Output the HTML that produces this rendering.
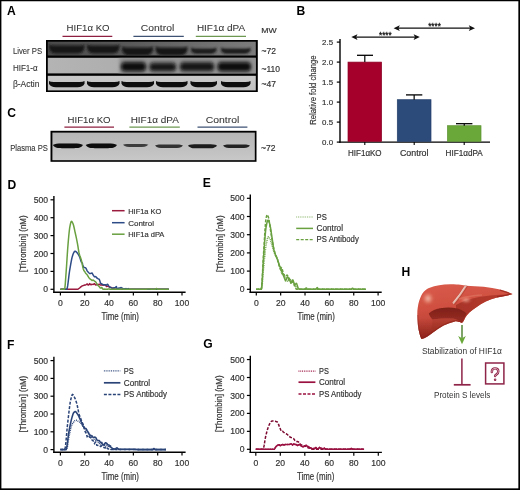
<!DOCTYPE html>
<html><head><meta charset="utf-8"><style>
html,body{margin:0;padding:0;background:#fff;}
body{width:520px;height:490px;overflow:hidden;}
svg{display:block;font-family:"Liberation Sans", sans-serif;will-change:transform;}
</style></head><body>
<svg width="520" height="490" viewBox="0 0 520 490" font-family='"Liberation Sans", sans-serif'>
<text x="7.1" y="15.2" font-size="12.1" font-weight="bold" fill="#000">A</text>
<text x="88.1" y="31.3" font-size="9.7" text-anchor="middle" fill="#333" font-weight="normal" textLength="43.0" lengthAdjust="spacingAndGlyphs" stroke="#333" stroke-width="0.06" >HIF1α KO</text>
<text x="157.5" y="31.3" font-size="9.7" text-anchor="middle" fill="#333" font-weight="normal" textLength="33.4" lengthAdjust="spacingAndGlyphs" stroke="#333" stroke-width="0.06" >Control</text>
<text x="221" y="31.3" font-size="9.7" text-anchor="middle" fill="#333" font-weight="normal" textLength="48.2" lengthAdjust="spacingAndGlyphs" stroke="#333" stroke-width="0.06" >HIF1α dPA</text>
<line x1="62.5" y1="36.3" x2="112.3" y2="36.3" stroke="#8e1f40" stroke-width="1.25" />
<line x1="133.4" y1="36.3" x2="183.8" y2="36.3" stroke="#3e5274" stroke-width="1.25" />
<line x1="195.8" y1="36.3" x2="246" y2="36.3" stroke="#6c9850" stroke-width="1.25" />
<text x="261.2" y="32.5" font-size="7.8" text-anchor="start" fill="#333" font-weight="normal" textLength="15.4" lengthAdjust="spacingAndGlyphs" stroke="#333" stroke-width="0.18" >MW</text>
<text x="261.5" y="54" font-size="8.5" text-anchor="start" fill="#333" font-weight="normal" stroke="#333" stroke-width="0.18" >~72</text>
<text x="261.5" y="72" font-size="8.5" text-anchor="start" fill="#333" font-weight="normal" stroke="#333" stroke-width="0.18" >~110</text>
<text x="261.5" y="87" font-size="8.5" text-anchor="start" fill="#333" font-weight="normal" stroke="#333" stroke-width="0.18" >~47</text>
<text x="12.9" y="53.7" font-size="8.6" text-anchor="start" fill="#333" font-weight="normal" textLength="29.2" lengthAdjust="spacingAndGlyphs" stroke="#333" stroke-width="0.1" >Liver PS</text>
<text x="12.9" y="71.4" font-size="8.6" text-anchor="start" fill="#333" font-weight="normal" textLength="24.8" lengthAdjust="spacingAndGlyphs" stroke="#333" stroke-width="0.1" >HIF1-α</text>
<text x="12.9" y="86.9" font-size="8.6" text-anchor="start" fill="#333" font-weight="normal" textLength="26.6" lengthAdjust="spacingAndGlyphs" stroke="#333" stroke-width="0.1" >β-Actin</text>
<defs>
<filter id="b1" x="-20%" y="-60%" width="140%" height="220%"><feGaussianBlur stdDeviation="1.1"/></filter>
<filter id="b2" x="-20%" y="-60%" width="140%" height="220%"><feGaussianBlur stdDeviation="0.7"/></filter>
<filter id="b3" x="-20%" y="-60%" width="140%" height="220%"><feGaussianBlur stdDeviation="1.8"/></filter>
<filter id="b4" x="-20%" y="-60%" width="140%" height="220%"><feGaussianBlur stdDeviation="1.45"/></filter>
<linearGradient id="g1" x1="0" y1="0" x2="1" y2="0"><stop offset="0" stop-color="#4a4a4a"/><stop offset="0.4" stop-color="#5a5a5a"/><stop offset="0.7" stop-color="#6c6c6c"/><stop offset="1" stop-color="#7c7c7c"/></linearGradient>
<linearGradient id="g2" x1="0" y1="0" x2="1" y2="0"><stop offset="0" stop-color="#b4b4b4"/><stop offset="0.35" stop-color="#aeaeae"/><stop offset="1" stop-color="#a2a2a2"/></linearGradient>
<linearGradient id="g3" x1="0" y1="0" x2="0" y2="1"><stop offset="0" stop-color="#c9c9c9"/><stop offset="1" stop-color="#c2c2c2"/></linearGradient>
<linearGradient id="gc" x1="0" y1="0" x2="0" y2="1"><stop offset="0" stop-color="#b6b6b6"/><stop offset="0.5" stop-color="#bebebe"/><stop offset="1" stop-color="#c8c8c8"/></linearGradient>
<clipPath id="cr1"><rect x="47.8" y="41.7" width="208" height="13.8"/></clipPath>
<clipPath id="cr2"><rect x="47.8" y="57.8" width="208" height="15.6"/></clipPath>
<clipPath id="cr3"><rect x="47.8" y="75.8" width="208" height="14.6"/></clipPath>
<clipPath id="crc"><rect x="52.4" y="132.6" width="202.4" height="27.6"/></clipPath>
</defs>
<rect x="46" y="40" width="211.8" height="52" fill="#000" />
<rect x="47.8" y="41.7" width="208" height="13.8" fill="url(#g1)" />
<rect x="47.8" y="57.8" width="208" height="15.6" fill="url(#g2)" />
<rect x="47.8" y="75.8" width="208" height="14.6" fill="url(#g3)" />
<g clip-path="url(#cr1)"><g filter="url(#b1)">
<path d="M49,44.4 Q50,45.4 54,45.4 L79.5,45.4 Q83.5,45.4 84.5,44.4 L84.5,48.269999999999996 Q83.0,53.6 77.5,53.6 L56,53.6 Q50.5,53.6 49,48.269999999999996 Z" fill="#171717"/>
<path d="M87,44.4 Q88,45.4 92,45.4 L114.5,45.4 Q118.5,45.4 119.5,44.4 L119.5,48.269999999999996 Q118.0,53.6 112.5,53.6 L94,53.6 Q88.5,53.6 87,48.269999999999996 Z" fill="#171717"/>
<path d="M122,46.6 Q123,47.6 127,47.6 L148,47.6 Q152,47.6 153,46.6 L153,50.33 Q151.5,55.4 146,55.4 L129,55.4 Q123.5,55.4 122,50.33 Z" fill="#131313"/>
<path d="M155.5,46.6 Q156.5,47.6 160.5,47.6 L182.5,47.6 Q186.5,47.6 187.5,46.6 L187.5,50.33 Q186.0,55.4 180.5,55.4 L162.5,55.4 Q157.0,55.4 155.5,50.33 Z" fill="#141414"/>
<path d="M191,47.6 Q192,48.6 196,48.6 L211.5,48.6 Q215.5,48.6 216.5,47.6 L216.5,50.42 Q215.0,53.8 209.5,53.8 L198,53.8 Q192.5,53.8 191,50.42 Z" fill="#1e1e1e"/>
<path d="M221,47.6 Q222,48.6 226,48.6 L245.5,48.6 Q249.5,48.6 250.5,47.6 L250.5,50.42 Q249.0,53.8 243.5,53.8 L228,53.8 Q222.5,53.8 221,50.42 Z" fill="#1e1e1e"/>
</g></g>
<g clip-path="url(#cr2)">
<g filter="url(#b3)">
<rect x="119" y="56" width="140" height="20" fill="#8c8c8c" opacity="0.75"/>
<rect x="120.0" y="60.3" width="27.0" height="13.0" rx="5" fill="#555" opacity="0.7"/>
<rect x="148.5" y="60.9" width="28.5" height="12.000000000000007" rx="5" fill="#555" opacity="0.7"/>
<rect x="179.0" y="60.5" width="36.0" height="12.599999999999994" rx="5" fill="#555" opacity="0.7"/>
<rect x="216.5" y="60.3" width="35.5" height="13.0" rx="5" fill="#555" opacity="0.7"/>
</g><g filter="url(#b4)">
<rect x="121.5" y="62.8" width="24.0" height="8.0" rx="4" fill="#0c0c0c"/>
<rect x="150" y="63.4" width="25.5" height="7.000000000000007" rx="4" fill="#141414"/>
<rect x="180.5" y="63.0" width="33.0" height="7.599999999999994" rx="4" fill="#121212"/>
<rect x="218" y="62.8" width="32.5" height="8.0" rx="4" fill="#0e0e0e"/>
</g></g>
<g clip-path="url(#cr3)"><g filter="url(#b2)">
<path d="M49,81.1 Q50,82.0 54,82.0 L79.5,82.0 Q83.5,82.0 84.5,81.1 L84.5,83.82000000000001 Q83.0,87.2 77.5,87.2 L56,87.2 Q50.5,87.2 49,83.82000000000001 Z" fill="#0a0a0a"/>
<path d="M87,81.1 Q88,82.0 92,82.0 L114.5,82.0 Q118.5,82.0 119.5,81.1 L119.5,83.82000000000001 Q118.0,87.2 112.5,87.2 L94,87.2 Q88.5,87.2 87,83.82000000000001 Z" fill="#0a0a0a"/>
<path d="M121.5,81.1 Q122.5,82.0 126.5,82.0 L149,82.0 Q153,82.0 154,81.1 L154,83.82000000000001 Q152.5,87.2 147,87.2 L128.5,87.2 Q123.0,87.2 121.5,83.82000000000001 Z" fill="#0a0a0a"/>
<path d="M156,81.1 Q157,82.0 161,82.0 L182.5,82.0 Q186.5,82.0 187.5,81.1 L187.5,83.82000000000001 Q186.0,87.2 180.5,87.2 L163,87.2 Q157.5,87.2 156,83.82000000000001 Z" fill="#0a0a0a"/>
<path d="M190.5,81.1 Q191.5,82.0 195.5,82.0 L212,82.0 Q216,82.0 217,81.1 L217,83.82000000000001 Q215.5,87.2 210,87.2 L197.5,87.2 Q192.0,87.2 190.5,83.82000000000001 Z" fill="#0a0a0a"/>
<path d="M221,81.1 Q222,82.0 226,82.0 L245.5,82.0 Q249.5,82.0 250.5,81.1 L250.5,83.82000000000001 Q249.0,87.2 243.5,87.2 L228,87.2 Q222.5,87.2 221,83.82000000000001 Z" fill="#0a0a0a"/>
</g></g>
<text x="7.3" y="117.2" font-size="12.1" font-weight="bold" fill="#000">C</text>
<text x="89.1" y="122.6" font-size="9.7" text-anchor="middle" fill="#333" font-weight="normal" textLength="43.0" lengthAdjust="spacingAndGlyphs" stroke="#333" stroke-width="0.06" >HIF1α KO</text>
<text x="154.75" y="122.6" font-size="9.7" text-anchor="middle" fill="#333" font-weight="normal" textLength="48.2" lengthAdjust="spacingAndGlyphs" stroke="#333" stroke-width="0.06" >HIF1α dPA</text>
<text x="222.5" y="122.6" font-size="9.7" text-anchor="middle" fill="#333" font-weight="normal" textLength="33.6" lengthAdjust="spacingAndGlyphs" stroke="#333" stroke-width="0.06" >Control</text>
<line x1="64.4" y1="127.1" x2="114" y2="127.1" stroke="#8e1f40" stroke-width="1.25" />
<line x1="129.4" y1="127.1" x2="179.8" y2="127.1" stroke="#6c9850" stroke-width="1.25" />
<line x1="197.5" y1="127.1" x2="247.4" y2="127.1" stroke="#3e5274" stroke-width="1.25" />
<rect x="50.5" y="130.8" width="206" height="31" fill="#000" />
<rect x="52.4" y="132.6" width="202.4" height="27.6" fill="url(#gc)" />
<g clip-path="url(#crc)"><g filter="url(#b2)">
<path d="M52.8,145.09999999999997 C54.8,143.6 57.8,143.6 61.8,143.6 L74,143.6 C78,143.6 81,143.6 83,145.09999999999997 C81,148.2 78,148.2 74,148.2 L61.8,148.2 C57.8,148.2 54.8,148.2 52.8,145.09999999999997 Z" fill="#0c0c0c"/>
<path d="M85.7,145.09999999999997 C87.7,143.6 90.7,143.6 94.7,143.6 L108,143.6 C112,143.6 115,143.6 117,145.09999999999997 C115,148.2 112,148.2 108,148.2 L94.7,148.2 C90.7,148.2 87.7,148.2 85.7,145.09999999999997 Z" fill="#0c0c0c"/>
<path d="M123,144.7 C125,144.0 128,144.0 132,144.0 L139.3,144.0 C143.3,144.0 146.3,144.0 148.3,144.7 C146.3,147.0 143.3,147.0 139.3,147.0 L132,147.0 C128,147.0 125,147.0 123,144.7 Z" fill="#3e3e3e"/>
<path d="M155,145.45 C157,144.5 160,144.5 164,144.5 L174,144.5 C178,144.5 181,144.5 183,145.45 C181,148.0 178,148.0 174,148.0 L164,148.0 C160,148.0 157,148.0 155,145.45 Z" fill="#303030"/>
<path d="M188,145.39999999999998 C190,144.2 193,144.2 197,144.2 L208,144.2 C212,144.2 215,144.2 217,145.39999999999998 C215,148.2 212,148.2 208,148.2 L197,148.2 C193,148.2 190,148.2 188,145.39999999999998 Z" fill="#1a1a1a"/>
<path d="M223,145.45 C225,144.5 228,144.5 232,144.5 L241,144.5 C245,144.5 248,144.5 250,145.45 C248,148.0 245,148.0 241,148.0 L232,148.0 C228,148.0 225,148.0 223,145.45 Z" fill="#202020"/>
</g></g>
<text x="10.2" y="150.7" font-size="8.7" text-anchor="start" fill="#333" font-weight="normal" textLength="37.6" lengthAdjust="spacingAndGlyphs" stroke="#333" stroke-width="0.1" >Plasma PS</text>
<text x="261" y="151.3" font-size="8.5" text-anchor="start" fill="#333" font-weight="normal" stroke="#333" stroke-width="0.18" >~72</text>
<text x="296.6" y="15.3" font-size="12.1" font-weight="bold" fill="#000">B</text>
<line x1="340" y1="38.9" x2="340" y2="142.8" stroke="#000" stroke-width="1.4" />
<line x1="339.3" y1="142.1" x2="490" y2="142.1" stroke="#000" stroke-width="1.4" />
<line x1="336.8" y1="142.1" x2="340" y2="142.1" stroke="#000" stroke-width="1.2" />
<text x="333.1" y="144.9" font-size="7.9" text-anchor="end" fill="#333" font-weight="normal" stroke="#333" stroke-width="0.18" >0.0</text>
<line x1="336.8" y1="122.1" x2="340" y2="122.1" stroke="#000" stroke-width="1.2" />
<text x="333.1" y="124.89999999999999" font-size="7.9" text-anchor="end" fill="#333" font-weight="normal" stroke="#333" stroke-width="0.18" >0.5</text>
<line x1="336.8" y1="102.1" x2="340" y2="102.1" stroke="#000" stroke-width="1.2" />
<text x="333.1" y="104.89999999999999" font-size="7.9" text-anchor="end" fill="#333" font-weight="normal" stroke="#333" stroke-width="0.18" >1.0</text>
<line x1="336.8" y1="82.1" x2="340" y2="82.1" stroke="#000" stroke-width="1.2" />
<text x="333.1" y="84.89999999999999" font-size="7.9" text-anchor="end" fill="#333" font-weight="normal" stroke="#333" stroke-width="0.18" >1.5</text>
<line x1="336.8" y1="62.099999999999994" x2="340" y2="62.099999999999994" stroke="#000" stroke-width="1.2" />
<text x="333.1" y="64.89999999999999" font-size="7.9" text-anchor="end" fill="#333" font-weight="normal" stroke="#333" stroke-width="0.18" >2.0</text>
<line x1="336.8" y1="42.099999999999994" x2="340" y2="42.099999999999994" stroke="#000" stroke-width="1.2" />
<text x="333.1" y="44.89999999999999" font-size="7.9" text-anchor="end" fill="#333" font-weight="normal" stroke="#333" stroke-width="0.18" >2.5</text>
<line x1="364.8" y1="142.1" x2="364.8" y2="144.9" stroke="#000" stroke-width="1.1" />
<line x1="414.2" y1="142.1" x2="414.2" y2="144.9" stroke="#000" stroke-width="1.1" />
<line x1="464.2" y1="142.1" x2="464.2" y2="144.9" stroke="#000" stroke-width="1.1" />
<rect x="348" y="62.099999999999994" width="33.60000000000002" height="79.3" fill="#a5002c" stroke="#8a0024" stroke-width="0.7"/>
<line x1="364.8" y1="62.099999999999994" x2="364.8" y2="55.3" stroke="#000" stroke-width="1.2" />
<line x1="357" y1="55.3" x2="373" y2="55.3" stroke="#000" stroke-width="1.3" />
<rect x="397.3" y="99.69999999999999" width="33.69999999999999" height="41.7" fill="#2d4b7a" stroke="#223e6a" stroke-width="0.7"/>
<line x1="414.15" y1="99.69999999999999" x2="414.15" y2="94.9" stroke="#000" stroke-width="1.2" />
<line x1="406" y1="94.9" x2="422.3" y2="94.9" stroke="#000" stroke-width="1.3" />
<rect x="447.5" y="125.69999999999999" width="33.5" height="15.700000000000006" fill="#6aa83a" stroke="#5a9030" stroke-width="0.7"/>
<line x1="464.25" y1="125.69999999999999" x2="464.25" y2="123.69999999999999" stroke="#000" stroke-width="1.2" />
<line x1="456" y1="123.69999999999999" x2="472.4" y2="123.69999999999999" stroke="#000" stroke-width="1.3" />
<text x="364.8" y="155.8" font-size="8.4" text-anchor="middle" fill="#333" font-weight="normal" textLength="33.6" lengthAdjust="spacingAndGlyphs" stroke="#333" stroke-width="0.18" >HIF1αKO</text>
<text x="414.2" y="155.8" font-size="8.4" text-anchor="middle" fill="#333" font-weight="normal" textLength="28.6" lengthAdjust="spacingAndGlyphs" stroke="#333" stroke-width="0.18" >Control</text>
<text x="464.2" y="155.8" font-size="8.4" text-anchor="middle" fill="#333" font-weight="normal" textLength="37.2" lengthAdjust="spacingAndGlyphs" stroke="#333" stroke-width="0.18" >HIF1αdPA</text>
<text transform="translate(316.1,90.1) rotate(-90)" font-size="9.2" text-anchor="middle" fill="#333" stroke="#333" stroke-width="0.18" textLength="69.2" lengthAdjust="spacingAndGlyphs">Relative fold change</text>
<line x1="355.3" y1="37.1" x2="415.8" y2="37.1" stroke="#111" stroke-width="1.3" />
<path d="M351.3,37.1 L357.5,34.2 L356.1,37.1 L357.5,40.0 Z" fill="#111"/>
<path d="M419.8,37.1 L413.6,34.2 L415.0,37.1 L413.6,40.0 Z" fill="#111"/>
<line x1="397.6" y1="28.2" x2="471.0" y2="28.2" stroke="#111" stroke-width="1.3" />
<path d="M393.6,28.2 L399.8,25.3 L398.40000000000003,28.2 L399.8,31.099999999999998 Z" fill="#111"/>
<path d="M475.0,28.2 L468.8,25.3 L470.2,28.2 L468.8,31.099999999999998 Z" fill="#111"/>
<text x="385.3" y="38.0" font-size="9" text-anchor="middle" fill="#111" font-weight="normal" textLength="12.6" lengthAdjust="spacingAndGlyphs" stroke="#111" stroke-width="0.3" >****</text>
<text x="434.5" y="29.0" font-size="9" text-anchor="middle" fill="#111" font-weight="normal" textLength="12.6" lengthAdjust="spacingAndGlyphs" stroke="#111" stroke-width="0.3" >****</text>
<text x="7.4" y="189.3" font-size="12.1" font-weight="bold" fill="#000">D</text>
<line x1="53.9" y1="196.0" x2="53.9" y2="292.9" stroke="#000" stroke-width="1.4" />
<line x1="53.199999999999996" y1="292.2" x2="185.6" y2="292.2" stroke="#000" stroke-width="1.4" />
<line x1="50.5" y1="289.3" x2="53.9" y2="289.3" stroke="#000" stroke-width="1.2" />
<text x="48.1" y="292.35" font-size="8.6" text-anchor="end" fill="#333" font-weight="normal" stroke="#333" stroke-width="0.18" >0</text>
<line x1="50.5" y1="271.40000000000003" x2="53.9" y2="271.40000000000003" stroke="#000" stroke-width="1.2" />
<text x="48.1" y="274.45000000000005" font-size="8.6" text-anchor="end" fill="#333" font-weight="normal" stroke="#333" stroke-width="0.18" >100</text>
<line x1="50.5" y1="253.5" x2="53.9" y2="253.5" stroke="#000" stroke-width="1.2" />
<text x="48.1" y="256.55" font-size="8.6" text-anchor="end" fill="#333" font-weight="normal" stroke="#333" stroke-width="0.18" >200</text>
<line x1="50.5" y1="235.60000000000002" x2="53.9" y2="235.60000000000002" stroke="#000" stroke-width="1.2" />
<text x="48.1" y="238.65000000000003" font-size="8.6" text-anchor="end" fill="#333" font-weight="normal" stroke="#333" stroke-width="0.18" >300</text>
<line x1="50.5" y1="217.70000000000002" x2="53.9" y2="217.70000000000002" stroke="#000" stroke-width="1.2" />
<text x="48.1" y="220.75000000000003" font-size="8.6" text-anchor="end" fill="#333" font-weight="normal" stroke="#333" stroke-width="0.18" >400</text>
<line x1="50.5" y1="199.8" x2="53.9" y2="199.8" stroke="#000" stroke-width="1.2" />
<text x="48.1" y="202.85000000000002" font-size="8.6" text-anchor="end" fill="#333" font-weight="normal" stroke="#333" stroke-width="0.18" >500</text>
<line x1="60.4" y1="292.2" x2="60.4" y2="295.5" stroke="#000" stroke-width="1.2" />
<text x="60.4" y="305.8" font-size="8.6" text-anchor="middle" fill="#333" font-weight="normal" stroke="#333" stroke-width="0.18" >0</text>
<line x1="84.72" y1="292.2" x2="84.72" y2="295.5" stroke="#000" stroke-width="1.2" />
<text x="84.72" y="305.8" font-size="8.6" text-anchor="middle" fill="#333" font-weight="normal" stroke="#333" stroke-width="0.18" >20</text>
<line x1="109.03999999999999" y1="292.2" x2="109.03999999999999" y2="295.5" stroke="#000" stroke-width="1.2" />
<text x="109.03999999999999" y="305.8" font-size="8.6" text-anchor="middle" fill="#333" font-weight="normal" stroke="#333" stroke-width="0.18" >40</text>
<line x1="133.35999999999999" y1="292.2" x2="133.35999999999999" y2="295.5" stroke="#000" stroke-width="1.2" />
<text x="133.35999999999999" y="305.8" font-size="8.6" text-anchor="middle" fill="#333" font-weight="normal" stroke="#333" stroke-width="0.18" >60</text>
<line x1="157.68" y1="292.2" x2="157.68" y2="295.5" stroke="#000" stroke-width="1.2" />
<text x="157.68" y="305.8" font-size="8.6" text-anchor="middle" fill="#333" font-weight="normal" stroke="#333" stroke-width="0.18" >80</text>
<line x1="182.0" y1="292.2" x2="182.0" y2="295.5" stroke="#000" stroke-width="1.2" />
<text x="182.0" y="305.8" font-size="8.6" text-anchor="middle" fill="#333" font-weight="normal" stroke="#333" stroke-width="0.18" >100</text>
<text transform="translate(26.4,243.7) rotate(-90)" font-size="8.2" text-anchor="middle" fill="#333" stroke="#333" stroke-width="0.18" textLength="56.6" lengthAdjust="spacingAndGlyphs">[Thrombin] (nM)</text>
<text x="120.19999999999999" y="319.59999999999997" font-size="10" text-anchor="middle" fill="#333" stroke="#333" stroke-width="0.18" textLength="37.4" lengthAdjust="spacingAndGlyphs">Time (min)</text>
<path d="M60.40,289.30L60.89,289.30L61.37,289.30L61.86,289.30L62.35,289.30L62.83,289.30L63.32,289.30L63.80,289.30L64.29,289.30L64.78,289.30L65.26,289.30L65.75,289.30L66.24,289.30L66.72,289.30L67.21,289.30L67.70,289.30L68.18,289.30L68.67,289.30L69.16,289.30L69.64,289.30L70.13,289.30L70.61,289.30L71.10,289.30L71.59,289.30L72.07,289.30L72.56,289.30L73.05,289.30L73.53,289.30L74.02,289.30L74.51,289.30L74.99,289.30L75.48,289.30L75.96,289.30L76.45,289.30L76.94,289.30L77.42,289.30L77.91,289.18L78.40,288.87L78.88,288.50L79.37,288.14L79.86,287.75L80.34,287.32L80.83,286.90L81.32,286.52L81.80,286.20L82.29,285.90L82.77,285.73L83.26,285.58L83.75,285.41L84.23,285.21L84.72,285.02L85.21,284.95L85.69,284.90L86.18,284.67L86.67,284.26L87.15,283.90L87.64,284.48L88.12,285.08L88.61,285.03L89.10,284.34L89.58,283.64L90.07,284.12L90.56,284.58L91.04,284.71L91.53,284.50L92.02,284.29L92.50,284.37L92.99,284.44L93.48,284.31L93.96,283.97L94.45,283.65L94.93,284.27L95.42,284.90L95.91,285.08L96.39,284.80L96.88,284.54L97.37,284.60L97.85,284.67L98.34,284.60L98.83,284.37L99.31,284.14L99.80,284.57L100.28,284.99L100.77,285.12L101.26,284.97L101.74,284.83L102.23,284.98L102.72,285.14L103.20,285.16L103.69,285.09L104.18,285.05L104.66,285.11L105.15,285.19L105.64,285.48L106.12,285.96L106.61,286.47L107.09,286.30L107.58,286.16L108.07,286.23L108.55,286.51L109.04,286.75L109.53,286.99L110.01,287.23L110.50,287.38L110.99,287.45L111.47,287.52L111.96,287.93L112.44,288.33L112.93,288.54L113.42,288.55L113.90,288.56L114.39,288.82L114.88,289.06L115.36,289.16L115.85,289.12L116.34,289.06L116.82,289.00L117.31,289.05L117.80,289.10L118.28,289.14L118.77,289.19L119.25,289.23L119.74,289.26L120.23,289.28L120.71,289.29L121.20,289.30L121.69,289.30L122.17,289.30L122.66,289.30L123.15,289.30L123.63,289.30L124.12,289.30L124.60,289.30L125.09,289.30L125.58,289.30L126.06,289.30L126.55,289.30L127.04,289.30L127.52,289.30L128.01,289.30L128.50,289.30L128.98,289.30L129.47,289.30L129.96,289.30L130.44,289.30L130.93,289.30L131.41,289.30L131.90,289.30L132.39,289.30L132.87,289.30L133.36,289.30L133.85,289.30L134.33,289.30L134.82,289.30L135.31,289.30L135.79,289.30L136.28,289.30L136.76,289.30L137.25,289.30L137.74,289.30L138.22,289.30L138.71,289.30L139.20,289.30L139.68,289.30L140.17,289.30L140.66,289.30L141.14,289.30L141.63,289.30L142.12,289.30L142.60,289.30L143.09,289.30L143.57,289.30L144.06,289.30L144.55,289.30L145.03,289.30L145.52,289.30L146.01,289.30L146.49,289.30L146.98,289.30L147.47,289.30L147.95,289.30L148.44,289.30L148.92,289.30L149.41,289.30L149.90,289.30L150.38,289.30L150.87,289.30L151.36,289.30L151.84,289.30L152.33,289.30L152.82,289.30L153.30,289.30L153.79,289.30L154.28,289.30L154.76,289.30L155.25,289.30L155.73,289.30L156.22,289.30L156.71,289.30L157.19,289.30L157.68,289.30L158.17,289.30L158.65,289.30L159.14,289.30L159.63,289.30L160.11,289.30L160.60,289.30L161.08,289.30L161.57,289.30L162.06,289.30L162.54,289.30L163.03,289.30L163.52,289.30L164.00,289.30L164.49,289.30L164.98,289.30L165.46,289.30L165.95,289.30L166.44,289.30L166.92,289.30L167.41,289.30L167.89,289.30L168.38,289.30L168.87,289.30" fill="none" stroke="#9b1b3e" stroke-width="1.5" stroke-linejoin="round"/>
<path d="M60.40,289.30L60.89,289.30L61.37,289.30L61.86,289.30L62.35,289.30L62.83,289.30L63.32,289.30L63.80,289.30L64.29,289.30L64.78,289.30L65.26,289.30L65.75,289.30L66.24,289.30L66.72,289.30L67.21,288.30L67.70,285.68L68.18,282.01L68.67,277.88L69.16,273.85L69.64,270.50L70.13,267.64L70.61,264.77L71.10,262.02L71.59,259.52L72.07,257.39L72.56,255.69L73.05,254.21L73.53,253.03L74.02,252.23L74.51,251.56L74.99,251.19L75.48,251.27L75.96,251.63L76.45,252.07L76.94,252.56L77.42,253.16L77.91,253.85L78.40,254.60L78.88,255.46L79.37,256.42L79.86,257.45L80.34,259.05L80.83,260.73L81.32,261.95L81.80,262.54L82.29,263.02L82.77,264.96L83.26,266.47L83.75,267.27L84.23,267.43L84.72,267.59L85.21,267.70L85.69,267.93L86.18,268.62L86.67,269.75L87.15,270.86L87.64,271.45L88.12,271.98L88.61,272.51L89.10,273.01L89.58,273.45L90.07,273.48L90.56,273.44L91.04,273.31L91.53,273.14L92.02,272.97L92.50,273.83L92.99,274.72L93.48,275.49L93.96,276.13L94.45,276.77L94.93,276.68L95.42,276.57L95.91,276.80L96.39,277.39L96.88,278.02L97.37,278.28L97.85,278.58L98.34,278.85L98.83,279.11L99.31,279.44L99.80,280.77L100.28,282.39L100.77,283.50L101.26,283.72L101.74,283.76L102.23,284.15L102.72,284.51L103.20,284.67L103.69,284.65L104.18,284.67L104.66,284.76L105.15,284.81L105.64,285.00L106.12,285.18L106.61,285.09L107.09,284.51L107.58,284.25L108.07,284.74L108.55,285.61L109.04,286.23L109.53,286.64L110.01,286.99L110.50,287.32L110.99,287.63L111.47,287.90L111.96,288.06L112.44,288.22L112.93,288.17L113.42,287.93L113.90,287.68L114.39,287.77L114.88,287.86L115.36,287.62L115.85,287.05L116.34,286.49L116.82,287.71L117.31,288.94L117.80,289.26L118.28,288.67L118.77,288.09L119.25,288.07L119.74,288.06L120.23,287.95L120.71,287.75L121.20,287.55L121.69,287.82L122.17,288.08L122.66,288.40L123.15,288.79L123.63,289.17L124.12,289.01L124.60,288.84L125.09,288.72L125.58,288.64L126.06,288.55L126.55,288.82L127.04,289.09L127.52,289.11L128.01,288.88L128.50,288.64L128.98,289.15L129.47,289.17L129.96,289.20L130.44,289.22L130.93,289.24L131.41,289.26L131.90,289.28L132.39,289.29L132.87,289.30L133.36,289.30L133.85,289.30L134.33,289.30L134.82,289.30L135.31,289.30L135.79,289.30L136.28,289.30L136.76,289.30L137.25,289.30L137.74,289.30L138.22,289.30L138.71,289.30L139.20,289.30L139.68,289.30L140.17,289.30L140.66,289.30L141.14,289.30L141.63,289.30L142.12,289.30L142.60,289.30L143.09,289.30L143.57,289.30L144.06,289.30L144.55,289.30L145.03,289.30L145.52,289.30L146.01,289.30L146.49,289.30L146.98,289.30L147.47,289.30L147.95,289.30L148.44,289.30L148.92,289.30L149.41,289.30L149.90,289.30L150.38,289.30L150.87,289.30L151.36,289.30L151.84,289.30L152.33,289.30L152.82,289.30L153.30,289.30L153.79,289.30L154.28,289.30L154.76,289.30L155.25,289.30L155.73,289.30L156.22,289.30L156.71,289.30L157.19,289.30L157.68,289.30L158.17,289.30L158.65,289.30L159.14,289.30L159.63,289.30L160.11,289.30L160.60,289.30L161.08,289.30L161.57,289.30L162.06,289.30L162.54,289.30L163.03,289.30L163.52,289.30L164.00,289.30L164.49,289.30L164.98,289.30L165.46,289.30L165.95,289.30L166.44,289.30L166.92,289.30L167.41,289.30L167.89,289.30L168.38,289.30L168.87,289.30" fill="none" stroke="#2d4b86" stroke-width="1.5" stroke-linejoin="round"/>
<path d="M60.40,289.30L60.89,289.30L61.37,289.30L61.86,289.30L62.35,289.30L62.83,289.30L63.32,289.30L63.80,289.30L64.29,289.30L64.78,288.62L65.26,284.09L65.75,277.31L66.24,270.62L66.72,263.57L67.21,255.82L67.70,248.54L68.18,242.59L68.67,237.01L69.16,232.00L69.64,228.07L70.13,225.45L70.61,223.23L71.10,221.69L71.59,221.30L72.07,221.78L72.56,222.70L73.05,223.79L73.53,225.24L74.02,227.25L74.51,229.53L74.99,231.83L75.48,233.99L75.96,236.18L76.45,238.43L76.94,240.79L77.42,243.30L77.91,246.24L78.40,249.43L78.88,252.22L79.37,254.22L79.86,255.83L80.34,257.13L80.83,258.42L81.32,259.99L81.80,262.05L82.29,264.43L82.77,266.95L83.26,268.91L83.75,270.24L84.23,270.98L84.72,271.58L85.21,272.47L85.69,273.23L86.18,273.84L86.67,274.33L87.15,274.81L87.64,275.54L88.12,276.39L88.61,277.22L89.10,277.90L89.58,278.43L90.07,278.95L90.56,279.28L91.04,279.61L91.53,280.01L92.02,280.49L92.50,280.27L92.99,280.09L93.48,280.21L93.96,280.62L94.45,281.05L94.93,281.32L95.42,281.60L95.91,282.20L96.39,283.12L96.88,284.02L97.37,284.60L97.85,285.19L98.34,285.74L98.83,286.22L99.31,286.68L99.80,287.32L100.28,287.95L100.77,288.11L101.26,287.80L101.74,287.43L102.23,288.18L102.72,288.91L103.20,289.30L103.69,289.30L104.18,289.30L104.66,289.04L105.15,289.14L105.64,289.22L106.12,289.28L106.61,289.30L107.09,289.26L107.58,289.17L108.07,289.07L108.55,288.98L109.04,288.94L109.53,289.07L110.01,289.26L110.50,289.30L110.99,289.30L111.47,289.30L111.96,289.28L112.44,289.27L112.93,289.30L113.42,289.30L113.90,289.30L114.39,289.30L114.88,289.30L115.36,289.30L115.85,289.28L116.34,289.19L116.82,289.24L117.31,289.30L117.80,289.30L118.28,289.30L118.77,289.30L119.25,289.30L119.74,289.30L120.23,289.30L120.71,289.24L121.20,289.17L121.69,289.08L122.17,288.99L122.66,289.06L123.15,289.29L123.63,289.30L124.12,289.30L124.60,289.30L125.09,289.30L125.58,289.30L126.06,289.30L126.55,289.30L127.04,289.30L127.52,289.30L128.01,289.30L128.50,289.30L128.98,289.30L129.47,289.30L129.96,289.30L130.44,289.25L130.93,289.10L131.41,289.19L131.90,289.28L132.39,289.30L132.87,289.30L133.36,289.30L133.85,289.30L134.33,289.27L134.82,289.22L135.31,289.29L135.79,289.30L136.28,289.30L136.76,289.30L137.25,289.30L137.74,289.30L138.22,289.30L138.71,289.30L139.20,289.30L139.68,289.30L140.17,289.30L140.66,289.30L141.14,289.30L141.63,289.30L142.12,289.30L142.60,289.30L143.09,289.30L143.57,289.30L144.06,289.30L144.55,289.30L145.03,289.21L145.52,289.12L146.01,289.13L146.49,289.14L146.98,289.14L147.47,289.12L147.95,289.10L148.44,289.10L148.92,289.10L149.41,289.09L149.90,289.06L150.38,289.03L150.87,289.22L151.36,289.30L151.84,289.30L152.33,289.29L152.82,289.15L153.30,289.30L153.79,289.30L154.28,289.30L154.76,289.30L155.25,289.30L155.73,288.98L156.22,288.50L156.71,288.50L157.19,288.98L157.68,289.30L158.17,289.30L158.65,289.30L159.14,289.30L159.63,289.30L160.11,289.30L160.60,289.30L161.08,289.30L161.57,289.30L162.06,289.30L162.54,289.30L163.03,289.30L163.52,289.30L164.00,289.30L164.49,289.30L164.98,289.30L165.46,289.30L165.95,289.30L166.44,289.30L166.92,289.30L167.41,289.30L167.89,289.30L168.38,289.30L168.87,289.30" fill="none" stroke="#69a040" stroke-width="1.5" stroke-linejoin="round"/>
<line x1="112" y1="210.7" x2="124.6" y2="210.7" stroke="#9b1b3e" stroke-width="1.5" />
<text x="128.2" y="213.54999999999998" font-size="8.1" text-anchor="start" fill="#333" font-weight="normal" textLength="33.2" lengthAdjust="spacingAndGlyphs" stroke="#333" stroke-width="0.18" >HIF1a KO</text>
<line x1="112" y1="222.7" x2="124.6" y2="222.7" stroke="#2d4b86" stroke-width="1.5" />
<text x="128.2" y="225.54999999999998" font-size="8.1" text-anchor="start" fill="#333" font-weight="normal" textLength="25.8" lengthAdjust="spacingAndGlyphs" stroke="#333" stroke-width="0.18" >Control</text>
<line x1="112" y1="234.2" x2="124.6" y2="234.2" stroke="#69a040" stroke-width="1.5" />
<text x="128.2" y="237.04999999999998" font-size="8.1" text-anchor="start" fill="#333" font-weight="normal" textLength="36.2" lengthAdjust="spacingAndGlyphs" stroke="#333" stroke-width="0.18" >HIF1a dPA</text>
<text x="202.7" y="187.4" font-size="12.1" font-weight="bold" fill="#000">E</text>
<line x1="250.3" y1="194.5" x2="250.3" y2="292.9" stroke="#000" stroke-width="1.4" />
<line x1="249.60000000000002" y1="292.2" x2="381.70000000000005" y2="292.2" stroke="#000" stroke-width="1.4" />
<line x1="246.9" y1="289.3" x2="250.3" y2="289.3" stroke="#000" stroke-width="1.2" />
<text x="244.5" y="292.35" font-size="8.6" text-anchor="end" fill="#333" font-weight="normal" stroke="#333" stroke-width="0.18" >0</text>
<line x1="246.9" y1="271.1" x2="250.3" y2="271.1" stroke="#000" stroke-width="1.2" />
<text x="244.5" y="274.15000000000003" font-size="8.6" text-anchor="end" fill="#333" font-weight="normal" stroke="#333" stroke-width="0.18" >100</text>
<line x1="246.9" y1="252.9" x2="250.3" y2="252.9" stroke="#000" stroke-width="1.2" />
<text x="244.5" y="255.95000000000002" font-size="8.6" text-anchor="end" fill="#333" font-weight="normal" stroke="#333" stroke-width="0.18" >200</text>
<line x1="246.9" y1="234.70000000000002" x2="250.3" y2="234.70000000000002" stroke="#000" stroke-width="1.2" />
<text x="244.5" y="237.75000000000003" font-size="8.6" text-anchor="end" fill="#333" font-weight="normal" stroke="#333" stroke-width="0.18" >300</text>
<line x1="246.9" y1="216.5" x2="250.3" y2="216.5" stroke="#000" stroke-width="1.2" />
<text x="244.5" y="219.55" font-size="8.6" text-anchor="end" fill="#333" font-weight="normal" stroke="#333" stroke-width="0.18" >400</text>
<line x1="246.9" y1="198.3" x2="250.3" y2="198.3" stroke="#000" stroke-width="1.2" />
<text x="244.5" y="201.35000000000002" font-size="8.6" text-anchor="end" fill="#333" font-weight="normal" stroke="#333" stroke-width="0.18" >500</text>
<line x1="256.3" y1="292.2" x2="256.3" y2="295.5" stroke="#000" stroke-width="1.2" />
<text x="256.3" y="305.8" font-size="8.6" text-anchor="middle" fill="#333" font-weight="normal" stroke="#333" stroke-width="0.18" >0</text>
<line x1="280.66" y1="292.2" x2="280.66" y2="295.5" stroke="#000" stroke-width="1.2" />
<text x="280.66" y="305.8" font-size="8.6" text-anchor="middle" fill="#333" font-weight="normal" stroke="#333" stroke-width="0.18" >20</text>
<line x1="305.02" y1="292.2" x2="305.02" y2="295.5" stroke="#000" stroke-width="1.2" />
<text x="305.02" y="305.8" font-size="8.6" text-anchor="middle" fill="#333" font-weight="normal" stroke="#333" stroke-width="0.18" >40</text>
<line x1="329.38" y1="292.2" x2="329.38" y2="295.5" stroke="#000" stroke-width="1.2" />
<text x="329.38" y="305.8" font-size="8.6" text-anchor="middle" fill="#333" font-weight="normal" stroke="#333" stroke-width="0.18" >60</text>
<line x1="353.74" y1="292.2" x2="353.74" y2="295.5" stroke="#000" stroke-width="1.2" />
<text x="353.74" y="305.8" font-size="8.6" text-anchor="middle" fill="#333" font-weight="normal" stroke="#333" stroke-width="0.18" >80</text>
<line x1="378.1" y1="292.2" x2="378.1" y2="295.5" stroke="#000" stroke-width="1.2" />
<text x="378.1" y="305.8" font-size="8.6" text-anchor="middle" fill="#333" font-weight="normal" stroke="#333" stroke-width="0.18" >100</text>
<text transform="translate(223.0,243.65) rotate(-90)" font-size="8.2" text-anchor="middle" fill="#333" stroke="#333" stroke-width="0.18" textLength="56.6" lengthAdjust="spacingAndGlyphs">[Thrombin] (nM)</text>
<text x="316.1" y="319.59999999999997" font-size="10" text-anchor="middle" fill="#333" stroke="#333" stroke-width="0.18" textLength="37.4" lengthAdjust="spacingAndGlyphs">Time (min)</text>
<path d="M256.30,289.30L256.79,289.30L257.27,289.30L257.76,289.30L258.25,289.30L258.74,289.30L259.22,289.30L259.71,289.30L260.20,289.30L260.68,289.30L261.17,289.30L261.66,289.15L262.15,285.97L262.63,280.07L263.12,273.29L263.61,267.46L264.10,262.57L264.58,257.60L265.07,252.89L265.56,248.79L266.04,245.62L266.53,243.01L267.02,240.55L267.51,238.52L267.99,237.21L268.48,236.90L268.97,237.28L269.45,237.96L269.94,238.77L270.43,239.96L270.92,241.46L271.40,243.12L271.89,244.81L272.38,246.44L272.86,248.23L273.35,250.03L273.84,251.64L274.33,252.94L274.81,254.07L275.30,255.09L275.79,256.04L276.28,256.99L276.76,257.98L277.25,259.08L277.74,260.33L278.22,261.88L278.71,263.36L279.20,264.91L279.69,266.37L280.17,267.87L280.66,269.82L281.15,271.64L281.63,273.37L282.12,274.15L282.61,273.99L283.10,273.75L283.58,273.44L284.07,274.19L284.56,275.28L285.04,276.33L285.53,277.36L286.02,278.40L286.51,279.43L286.99,280.46L287.48,281.19L287.97,281.05L288.46,280.89L288.94,280.73L289.43,280.50L289.92,280.19L290.40,279.91L290.89,279.66L291.38,280.02L291.87,280.60L292.35,281.20L292.84,281.81L293.33,283.09L293.81,284.40L294.30,285.73L294.79,286.72L295.28,286.52L295.76,286.35L296.25,286.14L296.74,286.44L297.22,287.19L297.71,287.86L298.20,288.59L298.69,288.88L299.17,289.10L299.66,289.25L300.15,289.30L300.64,289.30L301.12,289.30L301.61,289.30L302.10,289.30L302.58,289.30L303.07,289.30L303.56,289.30L304.05,289.30L304.53,289.30L305.02,289.30L305.51,289.30L305.99,289.30L306.48,289.30L306.97,289.30L307.46,289.30L307.94,289.30L308.43,289.30L308.92,289.30L309.40,289.30L309.89,289.30L310.38,289.30L310.87,289.30L311.35,289.30L311.84,289.30L312.33,289.30L312.82,289.30L313.30,289.30L313.79,289.30L314.28,289.30L314.76,289.30L315.25,289.30L315.74,289.30L316.23,289.30L316.71,289.30L317.20,289.30L317.69,289.30L318.17,289.30L318.66,289.30L319.15,289.30L319.64,289.30L320.12,289.30L320.61,289.30L321.10,289.30L321.58,289.30L322.07,289.30L322.56,289.30L323.05,289.30L323.53,289.30L324.02,289.30L324.51,289.30L325.00,289.30L325.48,289.30L325.97,289.30L326.46,289.30L326.94,289.30L327.43,289.30L327.92,289.30L328.41,289.30L328.89,289.30L329.38,289.30L329.87,289.30L330.35,289.30L330.84,289.30L331.33,289.30L331.82,289.30L332.30,289.30L332.79,289.30L333.28,289.30L333.76,289.30L334.25,289.30L334.74,289.30L335.23,289.30L335.71,289.30L336.20,289.30L336.69,289.30L337.18,289.30L337.66,289.30L338.15,289.30L338.64,289.30L339.12,289.30L339.61,289.30L340.10,289.30L340.59,289.30L341.07,289.30L341.56,289.30L342.05,289.30L342.53,289.30L343.02,289.30L343.51,289.30L344.00,289.30L344.48,289.30L344.97,289.30L345.46,289.30L345.94,289.30L346.43,289.30L346.92,289.30L347.41,289.30L347.89,289.30L348.38,289.30L348.87,289.30L349.36,289.30L349.84,289.30L350.33,289.30L350.82,289.30L351.30,289.30L351.79,289.30L352.28,289.30L352.77,289.30L353.25,289.30L353.74,289.30L354.23,289.30L354.71,289.30L355.20,289.30L355.69,289.30L356.18,289.30L356.66,289.30L357.15,289.30L357.64,289.30L358.12,289.30L358.61,289.30L359.10,289.30L359.59,289.30L360.07,289.30L360.56,289.30L361.05,289.30L361.54,289.30L362.02,289.30L362.51,289.30L363.00,289.30L363.48,289.30L363.97,289.30L364.46,289.30L364.95,289.30L365.43,289.30L365.92,289.30" fill="none" stroke="#69a040" stroke-width="1.5" stroke-dasharray="0.9 0.9"/>
<path d="M256.30,289.30L256.79,289.30L257.27,289.30L257.76,289.30L258.25,289.30L258.74,289.30L259.22,289.30L259.71,289.30L260.20,289.30L260.68,289.30L261.17,289.30L261.66,286.65L262.15,279.89L262.63,270.82L263.12,261.23L263.61,252.90L264.10,245.12L264.58,236.70L265.07,228.70L265.56,222.22L266.04,218.32L266.53,216.23L267.02,214.88L267.51,214.84L267.99,215.90L268.48,217.41L268.97,219.54L269.45,222.59L269.94,226.12L270.43,229.69L270.92,232.88L271.40,235.76L271.89,238.66L272.38,241.49L272.86,244.17L273.35,246.63L273.84,248.78L274.33,250.59L274.81,252.19L275.30,253.62L275.79,254.95L276.28,256.24L276.76,257.54L277.25,258.90L277.74,260.39L278.22,262.05L278.71,263.99L279.20,265.94L279.69,267.77L280.17,268.97L280.66,268.65L281.15,268.19L281.63,267.65L282.12,268.46L282.61,270.63L283.10,272.73L283.58,274.75L284.07,275.50L284.56,275.80L285.04,276.06L285.53,276.30L286.02,275.93L286.51,275.55L286.99,275.17L287.48,275.30L287.97,276.99L288.46,278.67L288.94,280.34L289.43,281.27L289.92,281.46L290.40,281.68L290.89,281.92L291.38,281.99L291.87,282.01L292.35,282.04L292.84,282.10L293.33,282.87L293.81,283.66L294.30,284.48L294.79,285.43L295.28,286.64L295.76,287.88L296.25,289.07L296.74,289.30L297.22,289.30L297.71,289.07L298.20,288.59L298.69,288.88L299.17,289.10L299.66,289.25L300.15,289.30L300.64,289.30L301.12,289.30L301.61,289.30L302.10,289.30L302.58,289.30L303.07,289.30L303.56,289.30L304.05,289.30L304.53,289.30L305.02,289.30L305.51,289.30L305.99,289.30L306.48,289.30L306.97,289.30L307.46,289.30L307.94,289.30L308.43,289.30L308.92,289.30L309.40,289.30L309.89,289.30L310.38,289.30L310.87,289.30L311.35,289.30L311.84,289.30L312.33,289.30L312.82,289.30L313.30,289.30L313.79,289.30L314.28,289.30L314.76,289.30L315.25,289.30L315.74,289.30L316.23,289.30L316.71,289.30L317.20,289.30L317.69,289.30L318.17,289.30L318.66,289.30L319.15,289.30L319.64,289.30L320.12,289.30L320.61,289.30L321.10,289.30L321.58,289.30L322.07,289.30L322.56,289.30L323.05,289.30L323.53,289.30L324.02,289.30L324.51,289.30L325.00,289.30L325.48,289.30L325.97,289.30L326.46,289.30L326.94,289.30L327.43,289.30L327.92,289.30L328.41,289.30L328.89,289.30L329.38,289.30L329.87,289.30L330.35,289.30L330.84,289.30L331.33,289.30L331.82,289.30L332.30,289.30L332.79,289.30L333.28,289.30L333.76,289.30L334.25,289.30L334.74,289.30L335.23,289.30L335.71,289.30L336.20,289.30L336.69,289.30L337.18,289.30L337.66,289.30L338.15,289.30L338.64,289.30L339.12,289.30L339.61,289.30L340.10,289.30L340.59,289.30L341.07,289.30L341.56,289.30L342.05,289.30L342.53,289.30L343.02,289.30L343.51,289.30L344.00,289.30L344.48,289.30L344.97,289.30L345.46,289.30L345.94,289.30L346.43,289.30L346.92,289.30L347.41,289.30L347.89,289.30L348.38,289.30L348.87,289.30L349.36,289.30L349.84,289.30L350.33,289.30L350.82,289.30L351.30,289.30L351.79,289.30L352.28,289.30L352.77,289.30L353.25,289.30L353.74,289.30L354.23,289.30L354.71,289.30L355.20,289.30L355.69,289.30L356.18,289.30L356.66,289.30L357.15,289.30L357.64,289.30L358.12,289.30L358.61,289.30L359.10,289.30L359.59,289.30L360.07,289.30L360.56,289.30L361.05,289.30L361.54,289.30L362.02,289.30L362.51,289.30L363.00,289.30L363.48,289.30L363.97,289.30L364.46,289.30L364.95,289.30L365.43,289.30L365.92,289.30" fill="none" stroke="#69a040" stroke-width="1.5" stroke-dasharray="3 1.5"/>
<path d="M256.30,289.30L256.79,289.30L257.27,289.30L257.76,289.30L258.25,289.30L258.74,289.30L259.22,289.30L259.71,289.30L260.20,289.30L260.68,289.30L261.17,289.30L261.66,287.74L262.15,281.81L262.63,273.31L263.12,264.22L263.61,256.54L264.10,249.90L264.58,243.05L265.07,236.60L265.56,231.18L266.04,227.42L266.53,224.75L267.02,222.42L267.51,220.77L267.99,220.14L268.48,220.56L268.97,221.62L269.45,223.03L269.94,224.66L270.43,227.07L270.92,230.10L271.40,233.43L271.89,236.77L272.38,239.94L272.86,243.44L273.35,246.87L273.84,249.64L274.33,251.53L274.81,253.08L275.30,254.40L275.79,255.57L276.28,256.67L276.76,257.78L277.25,258.99L277.74,260.36L278.22,261.92L278.71,263.28L279.20,264.64L279.69,265.92L280.17,267.16L280.66,268.57L281.15,269.87L281.63,271.09L282.12,272.36L282.61,273.66L283.10,274.87L283.58,276.01L284.07,277.25L284.56,278.49L285.04,279.70L285.53,280.87L286.02,279.84L286.51,278.80L286.99,277.74L287.48,277.00L287.97,277.28L288.46,277.55L288.94,277.80L289.43,278.67L289.92,280.17L290.40,281.69L290.89,283.22L291.38,282.84L291.87,281.82L292.35,280.81L292.84,279.81L293.33,281.13L293.81,282.47L294.30,283.87L294.79,284.83L295.28,284.27L295.76,283.76L296.25,283.21L296.74,283.77L297.22,285.35L297.71,286.84L298.20,288.60L298.69,288.88L299.17,289.10L299.66,289.25L300.15,289.30L300.64,289.30L301.12,289.30L301.61,289.30L302.10,289.30L302.58,289.30L303.07,289.30L303.56,289.30L304.05,289.30L304.53,289.30L305.02,289.30L305.51,288.79L305.99,288.00L306.48,288.00L306.97,288.79L307.46,289.30L307.94,289.30L308.43,289.30L308.92,289.30L309.40,289.30L309.89,289.30L310.38,289.30L310.87,289.30L311.35,289.30L311.84,289.30L312.33,289.30L312.82,289.30L313.30,289.30L313.79,289.30L314.28,289.30L314.76,289.30L315.25,289.30L315.74,289.30L316.23,289.11L316.71,288.12L317.20,287.48L317.69,288.12L318.17,289.11L318.66,289.30L319.15,289.30L319.64,289.30L320.12,289.30L320.61,289.30L321.10,289.30L321.58,289.30L322.07,289.30L322.56,289.30L323.05,289.30L323.53,289.30L324.02,289.30L324.51,289.30L325.00,289.30L325.48,289.30L325.97,289.30L326.46,289.30L326.94,289.30L327.43,289.30L327.92,289.30L328.41,289.30L328.89,289.30L329.38,289.30L329.87,289.30L330.35,289.30L330.84,289.30L331.33,289.30L331.82,289.30L332.30,289.30L332.79,289.30L333.28,289.30L333.76,289.30L334.25,289.30L334.74,289.30L335.23,289.30L335.71,289.30L336.20,289.30L336.69,289.30L337.18,289.30L337.66,289.30L338.15,289.30L338.64,289.30L339.12,289.30L339.61,289.30L340.10,289.30L340.59,289.30L341.07,289.30L341.56,289.30L342.05,289.30L342.53,289.30L343.02,289.30L343.51,289.30L344.00,289.30L344.48,289.30L344.97,289.30L345.46,289.30L345.94,289.30L346.43,289.30L346.92,289.30L347.41,289.30L347.89,289.30L348.38,289.30L348.87,289.30L349.36,289.30L349.84,289.30L350.33,289.30L350.82,289.30L351.30,289.30L351.79,288.92L352.28,288.32L352.77,288.32L353.25,288.92L353.74,289.30L354.23,289.30L354.71,289.30L355.20,289.30L355.69,289.30L356.18,289.30L356.66,289.30L357.15,289.30L357.64,289.30L358.12,289.30L358.61,289.30L359.10,289.30L359.59,289.30L360.07,289.30L360.56,289.30L361.05,289.30L361.54,289.30L362.02,289.30L362.51,289.30L363.00,289.30L363.48,289.30L363.97,289.30L364.46,289.30L364.95,289.30L365.43,289.30L365.92,289.30" fill="none" stroke="#69a040" stroke-width="1.5" stroke-linejoin="round"/>
<line x1="296.2" y1="217" x2="313" y2="217" stroke="#69a040" stroke-width="1.1" stroke-dasharray="0.9 0.9" opacity="0.85"/>
<text x="316.6" y="219.85" font-size="8.2" text-anchor="start" fill="#333" font-weight="normal" textLength="10.2" lengthAdjust="spacingAndGlyphs" stroke="#333" stroke-width="0.18" >PS</text>
<line x1="296.2" y1="228.4" x2="313" y2="228.4" stroke="#69a040" stroke-width="1.5" />
<text x="316.6" y="231.25" font-size="8.2" text-anchor="start" fill="#333" font-weight="normal" textLength="26.400000000000002" lengthAdjust="spacingAndGlyphs" stroke="#333" stroke-width="0.18" >Control</text>
<line x1="296.2" y1="239.6" x2="313" y2="239.6" stroke="#69a040" stroke-width="1.4" stroke-dasharray="3 1.5"/>
<text x="316.6" y="242.45" font-size="8.2" text-anchor="start" fill="#333" font-weight="normal" textLength="42.2" lengthAdjust="spacingAndGlyphs" stroke="#333" stroke-width="0.18" >PS Antibody</text>
<text x="7.1" y="349.4" font-size="12.1" font-weight="bold" fill="#000">F</text>
<line x1="53.9" y1="356.8" x2="53.9" y2="453.0" stroke="#000" stroke-width="1.4" />
<line x1="53.199999999999996" y1="452.3" x2="185.6" y2="452.3" stroke="#000" stroke-width="1.4" />
<line x1="50.5" y1="449.6" x2="53.9" y2="449.6" stroke="#000" stroke-width="1.2" />
<text x="48.1" y="452.65000000000003" font-size="8.6" text-anchor="end" fill="#333" font-weight="normal" stroke="#333" stroke-width="0.18" >0</text>
<line x1="50.5" y1="431.8" x2="53.9" y2="431.8" stroke="#000" stroke-width="1.2" />
<text x="48.1" y="434.85" font-size="8.6" text-anchor="end" fill="#333" font-weight="normal" stroke="#333" stroke-width="0.18" >100</text>
<line x1="50.5" y1="414.0" x2="53.9" y2="414.0" stroke="#000" stroke-width="1.2" />
<text x="48.1" y="417.05" font-size="8.6" text-anchor="end" fill="#333" font-weight="normal" stroke="#333" stroke-width="0.18" >200</text>
<line x1="50.5" y1="396.20000000000005" x2="53.9" y2="396.20000000000005" stroke="#000" stroke-width="1.2" />
<text x="48.1" y="399.25000000000006" font-size="8.6" text-anchor="end" fill="#333" font-weight="normal" stroke="#333" stroke-width="0.18" >300</text>
<line x1="50.5" y1="378.40000000000003" x2="53.9" y2="378.40000000000003" stroke="#000" stroke-width="1.2" />
<text x="48.1" y="381.45000000000005" font-size="8.6" text-anchor="end" fill="#333" font-weight="normal" stroke="#333" stroke-width="0.18" >400</text>
<line x1="50.5" y1="360.6" x2="53.9" y2="360.6" stroke="#000" stroke-width="1.2" />
<text x="48.1" y="363.65000000000003" font-size="8.6" text-anchor="end" fill="#333" font-weight="normal" stroke="#333" stroke-width="0.18" >500</text>
<line x1="60.4" y1="452.3" x2="60.4" y2="455.6" stroke="#000" stroke-width="1.2" />
<text x="60.4" y="465.90000000000003" font-size="8.6" text-anchor="middle" fill="#333" font-weight="normal" stroke="#333" stroke-width="0.18" >0</text>
<line x1="84.72" y1="452.3" x2="84.72" y2="455.6" stroke="#000" stroke-width="1.2" />
<text x="84.72" y="465.90000000000003" font-size="8.6" text-anchor="middle" fill="#333" font-weight="normal" stroke="#333" stroke-width="0.18" >20</text>
<line x1="109.03999999999999" y1="452.3" x2="109.03999999999999" y2="455.6" stroke="#000" stroke-width="1.2" />
<text x="109.03999999999999" y="465.90000000000003" font-size="8.6" text-anchor="middle" fill="#333" font-weight="normal" stroke="#333" stroke-width="0.18" >40</text>
<line x1="133.35999999999999" y1="452.3" x2="133.35999999999999" y2="455.6" stroke="#000" stroke-width="1.2" />
<text x="133.35999999999999" y="465.90000000000003" font-size="8.6" text-anchor="middle" fill="#333" font-weight="normal" stroke="#333" stroke-width="0.18" >60</text>
<line x1="157.68" y1="452.3" x2="157.68" y2="455.6" stroke="#000" stroke-width="1.2" />
<text x="157.68" y="465.90000000000003" font-size="8.6" text-anchor="middle" fill="#333" font-weight="normal" stroke="#333" stroke-width="0.18" >80</text>
<line x1="182.0" y1="452.3" x2="182.0" y2="455.6" stroke="#000" stroke-width="1.2" />
<text x="182.0" y="465.90000000000003" font-size="8.6" text-anchor="middle" fill="#333" font-weight="normal" stroke="#333" stroke-width="0.18" >100</text>
<text transform="translate(25.5,404.05) rotate(-90)" font-size="8.2" text-anchor="middle" fill="#333" stroke="#333" stroke-width="0.18" textLength="56.6" lengthAdjust="spacingAndGlyphs">[Thrombin] (nM)</text>
<text x="120.19999999999999" y="479.7" font-size="10" text-anchor="middle" fill="#333" stroke="#333" stroke-width="0.18" textLength="37.4" lengthAdjust="spacingAndGlyphs">Time (min)</text>
<path d="M60.40,449.60L60.89,449.60L61.37,449.60L61.86,449.60L62.35,449.60L62.83,449.60L63.32,449.60L63.80,449.60L64.29,449.60L64.78,449.60L65.26,449.60L65.75,449.60L66.24,449.60L66.72,449.35L67.21,447.61L67.70,444.76L68.18,441.47L68.67,438.39L69.16,436.00L69.64,433.64L70.13,431.27L70.61,429.02L71.10,427.05L71.59,425.50L72.07,424.47L72.56,423.64L73.05,422.87L73.53,422.17L74.02,421.55L74.51,421.03L74.99,420.63L75.48,420.36L75.96,420.24L76.45,420.28L76.94,420.48L77.42,420.75L77.91,421.05L78.40,421.33L78.88,421.64L79.37,421.99L79.86,422.37L80.34,422.79L80.83,423.27L81.32,423.84L81.80,424.48L82.29,425.16L82.77,426.02L83.26,426.86L83.75,427.45L84.23,427.83L84.72,428.20L85.21,428.63L85.69,429.06L86.18,429.84L86.67,430.97L87.15,432.10L87.64,432.39L88.12,432.68L88.61,433.13L89.10,433.73L89.58,434.34L90.07,435.70L90.56,437.05L91.04,437.41L91.53,436.76L92.02,436.05L92.50,436.65L92.99,437.21L93.48,437.92L93.96,438.79L94.45,439.67L94.93,439.84L95.42,440.03L95.91,440.18L96.39,440.28L96.88,440.38L97.37,441.09L97.85,441.80L98.34,442.36L98.83,442.76L99.31,443.15L99.80,444.04L100.28,444.88L100.77,444.97L101.26,444.34L101.74,443.68L102.23,444.05L102.72,444.41L103.20,444.64L103.69,444.74L104.18,444.86L104.66,445.81L105.15,446.76L105.64,446.64L106.12,445.47L106.61,444.28L107.09,445.10L107.58,445.92L108.07,446.53L108.55,446.93L109.04,447.34L109.53,446.49L110.01,445.65L110.50,445.78L110.99,446.86L111.47,447.94L111.96,448.73L112.44,449.51L112.93,449.60L113.42,449.46L113.90,449.14L114.39,448.83L114.88,448.95L115.36,449.08L115.85,449.19L116.34,449.30L116.82,449.40L117.31,449.48L117.80,449.55L118.28,449.59L118.77,449.60L119.25,449.60L119.74,449.60L120.23,449.60L120.71,449.60L121.20,449.60L121.69,449.60L122.17,449.60L122.66,449.60L123.15,449.60L123.63,449.60L124.12,449.60L124.60,449.60L125.09,449.60L125.58,449.60L126.06,449.60L126.55,449.60L127.04,449.60L127.52,449.60L128.01,449.60L128.50,449.60L128.98,449.60L129.47,449.60L129.96,449.60L130.44,449.60L130.93,449.60L131.41,449.60L131.90,449.60L132.39,449.60L132.87,449.60L133.36,449.60L133.85,449.60L134.33,449.60L134.82,449.60L135.31,449.60L135.79,449.60L136.28,449.60L136.76,449.60L137.25,449.60L137.74,449.60L138.22,449.60L138.71,449.60L139.20,449.60L139.68,449.60L140.17,449.60L140.66,449.60L141.14,449.60L141.63,449.60L142.12,449.60L142.60,449.60L143.09,449.60L143.57,449.60L144.06,449.60L144.55,449.60L145.03,449.60L145.52,449.60L146.01,449.60L146.49,449.60L146.98,449.60L147.47,449.60L147.95,449.60L148.44,449.60L148.92,449.60L149.41,449.60L149.90,449.60L150.38,449.60L150.87,449.60L151.36,449.60L151.84,449.60L152.33,449.60L152.82,449.60L153.30,449.60L153.79,449.60L154.28,449.60L154.76,449.60L155.25,449.60L155.73,449.60L156.22,449.60L156.71,449.60L157.19,449.60L157.68,449.60L158.17,449.60L158.65,449.60L159.14,449.60L159.63,449.60L160.11,449.60L160.60,449.60L161.08,449.60L161.57,449.60L162.06,449.60L162.54,449.60L163.03,449.60L163.52,449.60L164.00,449.60L164.49,449.60L164.98,449.60L165.46,449.60L165.95,449.60" fill="none" stroke="#2b4478" stroke-width="1.5" stroke-dasharray="0.9 0.9"/>
<path d="M60.40,449.60L60.89,449.60L61.37,449.60L61.86,449.60L62.35,449.60L62.83,449.60L63.32,449.60L63.80,449.60L64.29,449.60L64.78,449.51L65.26,447.62L65.75,443.77L66.24,438.67L66.72,433.02L67.21,427.53L67.70,422.90L68.18,418.78L68.67,414.50L69.16,410.29L69.64,406.37L70.13,402.96L70.61,400.29L71.10,398.25L71.59,396.37L72.07,394.97L72.56,394.42L73.05,394.71L73.53,395.43L74.02,396.37L74.51,397.32L74.99,398.37L75.48,399.58L75.96,400.95L76.45,402.46L76.94,404.12L77.42,406.26L77.91,408.75L78.40,411.23L78.88,413.38L79.37,415.00L79.86,416.39L80.34,417.65L80.83,418.88L81.32,420.17L81.80,421.45L82.29,422.72L82.77,423.59L83.26,424.44L83.75,426.01L84.23,428.32L84.72,430.62L85.21,431.61L85.69,432.56L86.18,433.73L86.67,435.16L87.15,436.61L87.64,436.03L88.12,435.35L88.61,435.49L89.10,436.40L89.58,437.17L90.07,437.46L90.56,437.70L91.04,438.25L91.53,439.12L92.02,439.99L92.50,440.30L92.99,440.60L93.48,441.30L93.96,442.41L94.45,443.53L94.93,442.80L95.42,442.07L95.91,442.43L96.39,443.86L96.88,445.26L97.37,445.38L97.85,445.47L98.34,445.59L98.83,445.72L99.31,445.84L99.80,446.21L100.28,446.57L100.77,446.56L101.26,446.18L101.74,445.79L102.23,446.38L102.72,446.96L103.20,447.31L103.69,447.42L104.18,447.52L104.66,447.72L105.15,447.92L105.64,447.81L106.12,447.39L106.61,446.96L107.09,447.78L107.58,448.59L108.07,448.98L108.55,448.92L109.04,448.87L109.53,448.75L110.01,448.63L110.50,448.99L110.99,449.60L111.47,449.60L111.96,449.60L112.44,449.60L112.93,449.60L113.42,449.38L113.90,449.07L114.39,449.58L114.88,449.60L115.36,449.60L115.85,449.60L116.34,449.60L116.82,449.60L117.31,449.60L117.80,449.60L118.28,449.60L118.77,449.60L119.25,449.60L119.74,449.60L120.23,449.60L120.71,449.60L121.20,449.60L121.69,449.60L122.17,449.60L122.66,449.60L123.15,449.60L123.63,449.60L124.12,449.60L124.60,449.60L125.09,449.60L125.58,449.60L126.06,449.60L126.55,449.60L127.04,449.60L127.52,449.60L128.01,449.60L128.50,449.60L128.98,449.60L129.47,449.60L129.96,449.60L130.44,449.60L130.93,449.60L131.41,449.60L131.90,449.60L132.39,449.60L132.87,449.60L133.36,449.60L133.85,449.60L134.33,449.60L134.82,449.60L135.31,449.60L135.79,449.60L136.28,449.60L136.76,449.60L137.25,449.60L137.74,449.60L138.22,449.60L138.71,449.60L139.20,449.60L139.68,449.60L140.17,449.60L140.66,449.60L141.14,449.60L141.63,449.60L142.12,449.60L142.60,449.60L143.09,449.60L143.57,449.60L144.06,449.60L144.55,449.60L145.03,449.60L145.52,449.60L146.01,449.60L146.49,449.60L146.98,449.60L147.47,449.60L147.95,449.60L148.44,449.60L148.92,449.60L149.41,449.60L149.90,449.60L150.38,449.60L150.87,449.60L151.36,449.60L151.84,449.60L152.33,449.60L152.82,449.60L153.30,449.60L153.79,449.60L154.28,449.60L154.76,449.60L155.25,449.60L155.73,449.60L156.22,449.60L156.71,449.60L157.19,449.60L157.68,449.60L158.17,449.60L158.65,449.60L159.14,449.60L159.63,449.60L160.11,449.60L160.60,449.60L161.08,449.60L161.57,449.60L162.06,449.60L162.54,449.60L163.03,449.60L163.52,449.60L164.00,449.60L164.49,449.60L164.98,449.60L165.46,449.60L165.95,449.60" fill="none" stroke="#2b4478" stroke-width="1.5" stroke-dasharray="3 1.5"/>
<path d="M60.40,449.60L60.89,449.60L61.37,449.60L61.86,449.60L62.35,449.60L62.83,449.60L63.32,449.60L63.80,449.60L64.29,449.60L64.78,449.60L65.26,449.60L65.75,449.60L66.24,449.35L66.72,447.54L67.21,444.47L67.70,440.69L68.18,436.76L68.67,433.23L69.16,430.51L69.64,427.95L70.13,425.45L70.61,423.07L71.10,420.86L71.59,418.88L72.07,417.15L72.56,415.50L73.05,414.02L73.53,412.92L74.02,412.32L74.51,411.88L74.99,411.58L75.48,411.53L75.96,411.93L76.45,412.60L76.94,413.26L77.42,413.91L77.91,414.64L78.40,415.47L78.88,416.48L79.37,417.63L79.86,418.82L80.34,419.96L80.83,421.04L81.32,422.14L81.80,423.24L82.29,424.27L82.77,425.28L83.26,426.13L83.75,426.91L84.23,427.68L84.72,428.39L85.21,428.41L85.69,428.46L86.18,428.85L86.67,429.64L87.15,430.53L87.64,431.39L88.12,432.23L88.61,433.18L89.10,434.17L89.58,435.09L90.07,435.23L90.56,435.33L91.04,435.55L91.53,435.89L92.02,436.21L92.50,436.73L92.99,437.22L93.48,437.39L93.96,437.27L94.45,437.17L94.93,437.17L95.42,437.23L95.91,437.78L96.39,438.80L96.88,439.81L97.37,440.14L97.85,440.43L98.34,440.57L98.83,440.57L99.31,440.56L99.80,441.41L100.28,442.23L100.77,442.58L101.26,442.50L101.74,442.42L102.23,443.58L102.72,444.66L103.20,445.09L103.69,444.82L104.18,444.44L104.66,443.76L105.15,443.07L105.64,442.77L106.12,442.91L106.61,443.19L107.09,443.69L107.58,444.32L108.07,444.76L108.55,444.93L109.04,445.04L109.53,445.64L110.01,446.27L110.50,446.79L110.99,447.15L111.47,447.46L111.96,448.03L112.44,448.54L112.93,448.79L113.42,448.76L113.90,448.71L114.39,449.00L114.88,449.06L115.36,449.01L115.85,448.63L116.34,448.14L116.82,447.84L117.31,447.97L117.80,448.46L118.28,448.99L118.77,449.24L119.25,449.24L119.74,449.24L120.23,449.24L120.71,449.24L121.20,449.24L121.69,449.24L122.17,449.24L122.66,449.24L123.15,449.24L123.63,449.24L124.12,449.24L124.60,449.24L125.09,449.24L125.58,449.24L126.06,449.24L126.55,449.24L127.04,449.24L127.52,449.24L128.01,449.24L128.50,449.24L128.98,449.24L129.47,449.24L129.96,449.24L130.44,449.24L130.93,449.24L131.41,449.24L131.90,449.24L132.39,449.24L132.87,449.24L133.36,449.24L133.85,449.25L134.33,449.28L134.82,449.32L135.31,449.37L135.79,449.42L136.28,449.47L136.76,449.52L137.25,449.56L137.74,449.59L138.22,449.60L138.71,449.60L139.20,449.60L139.68,449.60L140.17,449.60L140.66,449.60L141.14,449.60L141.63,449.60L142.12,449.60L142.60,449.60L143.09,449.60L143.57,449.60L144.06,449.60L144.55,449.60L145.03,449.60L145.52,449.60L146.01,449.60L146.49,449.60L146.98,449.60L147.47,449.60L147.95,449.60L148.44,449.60L148.92,449.60L149.41,449.60L149.90,449.60L150.38,449.60L150.87,449.60L151.36,449.60L151.84,449.60L152.33,449.60L152.82,449.60L153.30,449.22L153.79,448.64L154.28,448.64L154.76,449.22L155.25,449.60L155.73,449.60L156.22,449.60L156.71,449.60L157.19,449.60L157.68,449.60L158.17,449.60L158.65,449.60L159.14,449.60L159.63,449.60L160.11,449.60L160.60,449.60L161.08,449.60L161.57,449.60L162.06,449.60L162.54,449.60L163.03,449.60L163.52,449.60L164.00,449.60L164.49,449.60L164.98,449.60L165.46,449.60L165.95,449.60" fill="none" stroke="#2b4478" stroke-width="1.6" stroke-linejoin="round"/>
<line x1="103.9" y1="370.8" x2="120.4" y2="370.8" stroke="#2b4478" stroke-width="1.2" stroke-dasharray="0.9 0.9"/>
<text x="123.8" y="373.65000000000003" font-size="8.3" text-anchor="start" fill="#333" font-weight="normal" textLength="10" lengthAdjust="spacingAndGlyphs" stroke="#333" stroke-width="0.18" >PS</text>
<line x1="103.9" y1="382.8" x2="120.4" y2="382.8" stroke="#2b4478" stroke-width="1.7" />
<text x="123.8" y="385.65000000000003" font-size="8.3" text-anchor="start" fill="#333" font-weight="normal" textLength="26.4" lengthAdjust="spacingAndGlyphs" stroke="#333" stroke-width="0.18" >Control</text>
<line x1="103.9" y1="394.6" x2="120.4" y2="394.6" stroke="#2b4478" stroke-width="1.5" stroke-dasharray="3 1.5"/>
<text x="123.8" y="397.45000000000005" font-size="8.3" text-anchor="start" fill="#333" font-weight="normal" textLength="43.2" lengthAdjust="spacingAndGlyphs" stroke="#333" stroke-width="0.18" >PS Antibody</text>
<text x="203.2" y="347.7" font-size="12.1" font-weight="bold" fill="#000">G</text>
<line x1="250.3" y1="355.75" x2="250.3" y2="453.09999999999997" stroke="#000" stroke-width="1.4" />
<line x1="249.60000000000002" y1="452.4" x2="381.90000000000003" y2="452.4" stroke="#000" stroke-width="1.4" />
<line x1="246.9" y1="449.3" x2="250.3" y2="449.3" stroke="#000" stroke-width="1.2" />
<text x="244.5" y="452.35" font-size="8.6" text-anchor="end" fill="#333" font-weight="normal" stroke="#333" stroke-width="0.18" >0</text>
<line x1="246.9" y1="431.35" x2="250.3" y2="431.35" stroke="#000" stroke-width="1.2" />
<text x="244.5" y="434.40000000000003" font-size="8.6" text-anchor="end" fill="#333" font-weight="normal" stroke="#333" stroke-width="0.18" >100</text>
<line x1="246.9" y1="413.40000000000003" x2="250.3" y2="413.40000000000003" stroke="#000" stroke-width="1.2" />
<text x="244.5" y="416.45000000000005" font-size="8.6" text-anchor="end" fill="#333" font-weight="normal" stroke="#333" stroke-width="0.18" >200</text>
<line x1="246.9" y1="395.45000000000005" x2="250.3" y2="395.45000000000005" stroke="#000" stroke-width="1.2" />
<text x="244.5" y="398.50000000000006" font-size="8.6" text-anchor="end" fill="#333" font-weight="normal" stroke="#333" stroke-width="0.18" >300</text>
<line x1="246.9" y1="377.5" x2="250.3" y2="377.5" stroke="#000" stroke-width="1.2" />
<text x="244.5" y="380.55" font-size="8.6" text-anchor="end" fill="#333" font-weight="normal" stroke="#333" stroke-width="0.18" >400</text>
<line x1="246.9" y1="359.55" x2="250.3" y2="359.55" stroke="#000" stroke-width="1.2" />
<text x="244.5" y="362.6" font-size="8.6" text-anchor="end" fill="#333" font-weight="normal" stroke="#333" stroke-width="0.18" >500</text>
<line x1="255.8" y1="452.4" x2="255.8" y2="455.7" stroke="#000" stroke-width="1.2" />
<text x="255.8" y="466.0" font-size="8.6" text-anchor="middle" fill="#333" font-weight="normal" stroke="#333" stroke-width="0.18" >0</text>
<line x1="280.3" y1="452.4" x2="280.3" y2="455.7" stroke="#000" stroke-width="1.2" />
<text x="280.3" y="466.0" font-size="8.6" text-anchor="middle" fill="#333" font-weight="normal" stroke="#333" stroke-width="0.18" >20</text>
<line x1="304.8" y1="452.4" x2="304.8" y2="455.7" stroke="#000" stroke-width="1.2" />
<text x="304.8" y="466.0" font-size="8.6" text-anchor="middle" fill="#333" font-weight="normal" stroke="#333" stroke-width="0.18" >40</text>
<line x1="329.3" y1="452.4" x2="329.3" y2="455.7" stroke="#000" stroke-width="1.2" />
<text x="329.3" y="466.0" font-size="8.6" text-anchor="middle" fill="#333" font-weight="normal" stroke="#333" stroke-width="0.18" >60</text>
<line x1="353.8" y1="452.4" x2="353.8" y2="455.7" stroke="#000" stroke-width="1.2" />
<text x="353.8" y="466.0" font-size="8.6" text-anchor="middle" fill="#333" font-weight="normal" stroke="#333" stroke-width="0.18" >80</text>
<line x1="378.3" y1="452.4" x2="378.3" y2="455.7" stroke="#000" stroke-width="1.2" />
<text x="378.3" y="466.0" font-size="8.6" text-anchor="middle" fill="#333" font-weight="normal" stroke="#333" stroke-width="0.18" >100</text>
<text transform="translate(222.4,403.75) rotate(-90)" font-size="8.2" text-anchor="middle" fill="#333" stroke="#333" stroke-width="0.18" textLength="56.6" lengthAdjust="spacingAndGlyphs">[Thrombin] (nM)</text>
<text x="315.6" y="479.79999999999995" font-size="10" text-anchor="middle" fill="#333" stroke="#333" stroke-width="0.18" textLength="37.4" lengthAdjust="spacingAndGlyphs">Time (min)</text>
<path d="M255.80,449.30L256.29,449.30L256.78,449.30L257.27,449.30L257.76,449.30L258.25,449.30L258.74,449.30L259.23,449.30L259.72,449.30L260.21,449.30L260.70,449.30L261.19,449.30L261.68,449.30L262.17,449.30L262.66,449.30L263.15,449.30L263.64,449.30L264.13,449.30L264.62,449.30L265.11,449.30L265.60,449.30L266.09,449.30L266.58,449.30L267.07,449.30L267.56,449.30L268.05,449.30L268.54,449.30L269.03,449.30L269.52,449.30L270.01,449.30L270.50,449.30L270.99,449.30L271.48,449.30L271.97,449.30L272.46,449.30L272.95,449.30L273.44,449.30L273.93,449.30L274.42,449.11L274.91,448.41L275.40,447.51L275.89,446.74L276.38,446.25L276.87,445.80L277.36,445.42L277.85,445.20L278.34,444.97L278.83,444.75L279.32,444.87L279.81,445.32L280.30,445.78L280.79,445.42L281.28,445.07L281.77,444.81L282.26,444.65L282.75,444.48L283.24,444.73L283.73,444.97L284.22,444.96L284.71,444.70L285.20,444.44L285.69,444.44L286.18,444.43L286.67,444.43L287.16,444.44L287.65,444.45L288.14,444.49L288.63,444.53L289.12,444.48L289.61,444.35L290.10,444.22L290.59,444.05L291.08,443.89L291.57,444.04L292.06,444.51L292.55,444.97L293.04,444.55L293.53,444.14L294.02,444.03L294.51,444.24L295.00,444.45L295.49,444.45L295.98,444.46L296.47,444.66L296.96,445.06L297.45,445.46L297.94,445.24L298.43,445.03L298.92,444.80L299.41,444.57L299.90,444.35L300.39,444.97L300.88,445.59L301.37,446.04L301.86,446.32L302.35,446.60L302.84,446.65L303.33,446.70L303.82,446.56L304.31,446.24L304.80,445.93L305.29,445.61L305.78,445.33L306.27,445.43L306.76,445.91L307.25,446.40L307.74,446.49L308.23,446.57L308.72,446.87L309.21,447.41L309.70,447.98L310.19,447.92L310.68,447.83L311.17,448.04L311.66,448.51L312.15,448.91L312.64,448.71L313.13,448.50L313.62,448.46L314.11,448.60L314.60,448.73L315.09,448.25L315.58,447.55L316.07,447.54L316.56,448.27L317.05,448.69L317.54,448.77L318.03,448.76L318.52,448.48L319.01,447.96L319.50,447.52L319.99,447.78L320.48,448.07L320.97,448.25L321.46,448.29L321.95,448.35L322.44,448.60L322.93,448.83L323.42,448.80L323.91,448.51L324.40,448.23L324.89,448.96L325.38,449.02L325.87,449.08L326.36,449.13L326.85,449.18L327.34,449.22L327.83,449.25L328.32,449.28L328.81,449.29L329.30,449.30L329.79,449.30L330.28,449.30L330.77,449.30L331.26,449.30L331.75,449.30L332.24,449.30L332.73,449.30L333.22,449.30L333.71,449.30L334.20,449.30L334.69,449.30L335.18,449.30L335.67,449.30L336.16,449.30L336.65,449.30L337.14,449.30L337.63,449.30L338.12,449.30L338.61,449.30L339.10,449.30L339.59,449.30L340.08,449.30L340.57,449.30L341.06,449.30L341.55,449.30L342.04,449.30L342.53,449.30L343.02,449.30L343.51,449.30L344.00,449.30L344.49,449.30L344.98,449.30L345.47,449.30L345.96,449.30L346.45,449.30L346.94,449.30L347.43,449.30L347.92,449.30L348.41,449.30L348.90,449.30L349.39,449.30L349.88,449.30L350.37,449.21L350.86,448.72L351.35,448.40L351.84,448.72L352.33,449.21L352.82,449.30L353.31,449.30L353.80,449.30L354.29,449.30L354.78,449.30L355.27,449.30L355.76,449.30L356.25,449.30L356.74,449.30L357.23,449.30L357.72,449.30L358.21,449.30L358.70,449.30L359.19,449.30L359.68,449.30L360.17,449.30L360.66,449.30L361.15,449.30L361.64,449.30L362.13,449.30L362.62,449.30L363.11,449.30L363.60,449.30L364.09,449.30" fill="none" stroke="#9a1040" stroke-width="1.5" stroke-dasharray="0.9 0.9"/>
<path d="M255.80,449.30L256.29,449.30L256.78,449.30L257.27,449.30L257.76,449.30L258.25,449.30L258.74,449.30L259.23,449.30L259.72,449.30L260.21,449.30L260.70,449.30L261.19,449.30L261.68,449.30L262.17,449.30L262.66,449.30L263.15,449.24L263.64,447.97L264.13,445.48L264.62,442.39L265.11,439.27L265.60,436.74L266.09,434.71L266.58,432.75L267.07,430.90L267.56,429.23L268.05,427.76L268.54,426.44L269.03,425.19L269.52,424.06L270.01,423.11L270.50,422.38L270.99,421.76L271.48,421.23L271.97,420.95L272.46,420.95L272.95,420.98L273.44,421.03L273.93,421.09L274.42,421.15L274.91,421.23L275.40,421.33L275.89,421.45L276.38,421.60L276.87,421.78L277.36,422.12L277.85,422.84L278.34,423.90L278.83,425.14L279.32,426.45L279.81,427.71L280.30,428.83L280.79,430.13L281.28,431.17L281.77,431.63L282.26,431.53L282.75,431.39L283.24,431.86L283.73,432.30L284.22,432.71L284.71,433.10L285.20,433.48L285.69,433.64L286.18,433.79L286.67,434.04L287.16,434.37L287.65,434.69L288.14,435.34L288.63,435.99L289.12,436.45L289.61,436.72L290.10,437.00L290.59,437.23L291.08,437.46L291.57,437.62L292.06,437.70L292.55,437.80L293.04,438.18L293.53,438.58L294.02,439.17L294.51,439.95L295.00,440.74L295.49,441.09L295.98,441.43L296.47,441.59L296.96,441.57L297.45,441.54L297.94,441.74L298.43,441.93L298.92,442.40L299.41,443.12L299.90,443.83L300.39,444.32L300.88,444.80L301.37,444.99L301.86,444.90L302.35,444.80L302.84,445.37L303.33,445.93L303.82,446.22L304.31,446.24L304.80,446.24L305.29,446.27L305.78,446.30L306.27,446.50L306.76,446.89L307.25,447.27L307.74,447.56L308.23,447.85L308.72,448.00L309.21,448.01L309.70,448.01L310.19,448.55L310.68,448.71L311.17,448.87L311.66,449.02L312.15,449.15L312.64,449.24L313.13,449.29L313.62,449.30L314.11,449.30L314.60,449.30L315.09,449.30L315.58,449.30L316.07,449.30L316.56,449.30L317.05,449.30L317.54,449.30L318.03,449.30L318.52,449.30L319.01,449.30L319.50,449.30L319.99,449.30L320.48,449.30L320.97,449.30L321.46,449.30L321.95,449.30L322.44,449.30L322.93,449.30L323.42,449.30L323.91,449.30L324.40,449.30L324.89,449.30L325.38,449.30L325.87,449.30L326.36,449.30L326.85,449.30L327.34,449.30L327.83,449.30L328.32,449.30L328.81,449.30L329.30,449.30L329.79,449.30L330.28,449.30L330.77,449.30L331.26,449.30L331.75,449.30L332.24,449.30L332.73,449.30L333.22,449.30L333.71,449.30L334.20,449.30L334.69,449.30L335.18,449.30L335.67,449.30L336.16,449.30L336.65,449.30L337.14,449.30L337.63,449.30L338.12,449.30L338.61,449.30L339.10,449.30L339.59,449.30L340.08,449.30L340.57,449.30L341.06,449.30L341.55,449.30L342.04,449.30L342.53,449.30L343.02,449.30L343.51,449.30L344.00,449.30L344.49,449.30L344.98,449.30L345.47,449.30L345.96,449.30L346.45,449.30L346.94,449.30L347.43,449.30L347.92,449.30L348.41,449.30L348.90,449.30L349.39,449.30L349.88,449.30L350.37,449.30L350.86,449.30L351.35,449.30L351.84,449.30L352.33,449.30L352.82,449.30L353.31,449.30L353.80,449.30L354.29,449.30L354.78,449.30L355.27,449.30L355.76,449.30L356.25,449.30L356.74,449.30L357.23,449.30L357.72,449.30L358.21,449.30L358.70,449.30L359.19,449.30L359.68,449.30L360.17,449.30L360.66,449.30L361.15,449.30L361.64,449.30L362.13,449.30L362.62,449.30L363.11,449.30L363.60,449.30" fill="none" stroke="#7d0a30" stroke-width="1.5" stroke-dasharray="3 1.5"/>
<path d="M255.80,449.30L256.29,449.30L256.78,449.30L257.27,449.30L257.76,449.30L258.25,449.30L258.74,449.30L259.23,449.30L259.72,449.30L260.21,449.30L260.70,449.30L261.19,449.30L261.68,449.30L262.17,449.30L262.66,449.30L263.15,449.30L263.64,449.30L264.13,449.30L264.62,449.30L265.11,449.30L265.60,449.30L266.09,449.30L266.58,449.30L267.07,449.30L267.56,449.30L268.05,449.30L268.54,449.30L269.03,449.30L269.52,449.30L270.01,449.30L270.50,449.30L270.99,449.30L271.48,449.30L271.97,449.30L272.46,449.30L272.95,449.30L273.44,449.30L273.93,449.30L274.42,449.11L274.91,448.41L275.40,447.51L275.89,446.74L276.38,446.25L276.87,445.80L277.36,445.42L277.85,445.20L278.34,444.97L278.83,444.75L279.32,444.87L279.81,445.32L280.30,445.78L280.79,445.42L281.28,445.07L281.77,444.81L282.26,444.65L282.75,444.48L283.24,444.73L283.73,444.97L284.22,444.96L284.71,444.70L285.20,444.44L285.69,444.44L286.18,444.43L286.67,444.43L287.16,444.44L287.65,444.45L288.14,444.49L288.63,444.53L289.12,444.48L289.61,444.35L290.10,444.22L290.59,444.05L291.08,443.89L291.57,444.04L292.06,444.51L292.55,444.97L293.04,444.55L293.53,444.14L294.02,444.03L294.51,444.24L295.00,444.45L295.49,444.45L295.98,444.46L296.47,444.66L296.96,445.06L297.45,445.46L297.94,445.24L298.43,445.03L298.92,444.80L299.41,444.57L299.90,444.35L300.39,444.97L300.88,445.59L301.37,446.04L301.86,446.32L302.35,446.60L302.84,446.65L303.33,446.70L303.82,446.56L304.31,446.24L304.80,445.93L305.29,445.61L305.78,445.33L306.27,445.43L306.76,445.91L307.25,446.40L307.74,446.49L308.23,446.57L308.72,446.87L309.21,447.41L309.70,447.98L310.19,447.92L310.68,447.83L311.17,448.04L311.66,448.51L312.15,448.91L312.64,448.71L313.13,448.50L313.62,448.46L314.11,448.60L314.60,448.73L315.09,448.25L315.58,447.55L316.07,447.54L316.56,448.27L317.05,448.69L317.54,448.77L318.03,448.76L318.52,448.48L319.01,447.96L319.50,447.52L319.99,447.78L320.48,448.07L320.97,448.25L321.46,448.29L321.95,448.35L322.44,448.60L322.93,448.83L323.42,448.80L323.91,448.51L324.40,448.23L324.89,448.96L325.38,449.02L325.87,449.08L326.36,449.13L326.85,449.18L327.34,449.22L327.83,449.25L328.32,449.28L328.81,449.29L329.30,449.30L329.79,449.30L330.28,449.30L330.77,449.30L331.26,449.30L331.75,449.30L332.24,449.30L332.73,449.30L333.22,449.30L333.71,449.30L334.20,449.30L334.69,449.30L335.18,449.30L335.67,449.30L336.16,449.30L336.65,449.30L337.14,449.30L337.63,449.30L338.12,449.30L338.61,449.30L339.10,449.30L339.59,449.30L340.08,449.30L340.57,449.30L341.06,449.30L341.55,449.30L342.04,449.30L342.53,449.30L343.02,449.30L343.51,449.30L344.00,449.30L344.49,449.30L344.98,449.30L345.47,449.30L345.96,449.30L346.45,449.30L346.94,449.30L347.43,449.30L347.92,449.30L348.41,449.30L348.90,449.30L349.39,449.30L349.88,449.30L350.37,449.21L350.86,448.72L351.35,448.40L351.84,448.72L352.33,449.21L352.82,449.30L353.31,449.30L353.80,449.30L354.29,449.30L354.78,449.30L355.27,449.30L355.76,449.30L356.25,449.30L356.74,449.30L357.23,449.30L357.72,449.30L358.21,449.30L358.70,449.30L359.19,449.30L359.68,449.30L360.17,449.30L360.66,449.30L361.15,449.30L361.64,449.30L362.13,449.30L362.62,449.30L363.11,449.30L363.60,449.30L364.09,449.30" fill="none" stroke="#9a1040" stroke-width="1.6" stroke-linejoin="round"/>
<line x1="298.5" y1="371.2" x2="315.4" y2="371.2" stroke="#9a1040" stroke-width="1.3" stroke-dasharray="0.9 0.9"/>
<text x="319.0" y="374.05" font-size="8.2" text-anchor="start" fill="#333" font-weight="normal" textLength="9.8" lengthAdjust="spacingAndGlyphs" stroke="#333" stroke-width="0.18" >PS</text>
<line x1="298.5" y1="382.2" x2="315.4" y2="382.2" stroke="#9a1040" stroke-width="1.7" />
<text x="319.0" y="385.05" font-size="8.2" text-anchor="start" fill="#333" font-weight="normal" textLength="26.0" lengthAdjust="spacingAndGlyphs" stroke="#333" stroke-width="0.18" >Control</text>
<line x1="298.5" y1="393.9" x2="315.4" y2="393.9" stroke="#9a1040" stroke-width="1.5" stroke-dasharray="3 1.5"/>
<text x="319.0" y="396.75" font-size="8.2" text-anchor="start" fill="#333" font-weight="normal" textLength="42.4" lengthAdjust="spacingAndGlyphs" stroke="#333" stroke-width="0.18" >PS Antibody</text>
<text x="401.6" y="275.9" font-size="12.1" font-weight="bold" fill="#000">H</text>
<defs>
<linearGradient id="lv" x1="0" y1="0" x2="0.25" y2="1"><stop offset="0" stop-color="#da5c4c"/><stop offset="0.45" stop-color="#cf4f40"/><stop offset="1" stop-color="#b03a30"/></linearGradient>
<linearGradient id="lvd" x1="0" y1="0" x2="0" y2="1"><stop offset="0" stop-color="#7e2018"/><stop offset="1" stop-color="#9a2e24"/></linearGradient>
<linearGradient id="lvr" x1="0" y1="0" x2="1" y2="0"><stop offset="0" stop-color="#a83428"/><stop offset="1" stop-color="#b83c2e"/></linearGradient>
<radialGradient id="lvh" cx="0.5" cy="0.5" r="0.5"><stop offset="0" stop-color="#f6c8b8" stop-opacity="0.95"/><stop offset="0.5" stop-color="#ee9c88" stop-opacity="0.6"/><stop offset="1" stop-color="#e68a74" stop-opacity="0"/></radialGradient>
<filter id="lb" x="-10%" y="-10%" width="120%" height="120%"><feGaussianBlur stdDeviation="0.6"/></filter>
<filter id="lb2" x="-30%" y="-30%" width="160%" height="160%"><feGaussianBlur stdDeviation="1.2"/></filter>
<clipPath id="lvc"><path d="M429,288 C436,285.5 442,284.4 450,284.3 C458,284.2 463,285 466,285.8 C478,286.3 490,287 500,289.6 C505,291 509,292.5 512.5,294 C508,295.5 503,296.2 497,297.5 C489,299.5 482,303 476,307.5 C471,311 467,314 465,318 C464,320.5 463,322.8 461.5,322.8 C459,321.8 457,321.2 455,321.4 C447,323 440,327 433,332.5 C429,335.5 425,338.5 421.5,339 C419,334 417.4,325 417.3,315 C417.2,305 420,296 424,291.5 C426,289.5 427.5,288.6 429,288 Z"/></clipPath>
</defs>
<g filter="url(#lb)">
<path d="M429,288 C436,285.5 442,284.4 450,284.3 C458,284.2 463,285 466,285.8 C478,286.3 490,287 500,289.6 C505,291 509,292.5 512.5,294 C508,295.5 503,296.2 497,297.5 C489,299.5 482,303 476,307.5 C471,311 467,314 465,318 C464,320.5 463,322.8 461.5,322.8 C459,321.8 457,321.2 455,321.4 C447,323 440,327 433,332.5 C429,335.5 425,338.5 421.5,339 C419,334 417.4,325 417.3,315 C417.2,305 420,296 424,291.5 C426,289.5 427.5,288.6 429,288 Z" fill="url(#lv)"/>
<g clip-path="url(#lvc)">
<path d="M456,305 C466,299 480,296 496,295 C504,294.6 509,294.2 513,294 L513,330 L456,330 Z" fill="url(#lvr)"/>
<path d="M428.8,313.5 C432,310.5 436,308.8 440,308.2 C446,307.2 452,307 457,308.5 C461,309.5 464,311 466.5,313.5 C465.5,316.5 463.5,320 461.5,322.5 C458,320.5 456,319 453,318.6 C446,318.2 438,318.6 432.5,319.5 C430.5,317.5 429.4,315.5 428.8,313.5 Z" fill="url(#lvd)" filter="url(#lb)"/>
<path d="M417,322 C419,330 421,336 422,340 L412,342 L412,320 Z" fill="#9a2c22" opacity="0.5"/>
<path d="M432.5,319.5 C440,318.4 448,318 455,319 C458,319.6 460,321 461.5,322.8 L455,321.4 C447,323 440,327 433,332.5 L431,334 Z" fill="#b23e30" opacity="0.7"/>
<defs><linearGradient id="lvb" x1="0" y1="0" x2="0" y2="1"><stop offset="0" stop-color="#7a1810" stop-opacity="0"/><stop offset="1" stop-color="#7a1810" stop-opacity="0.75"/></linearGradient></defs>
<rect x="410" y="318" width="60" height="24" fill="url(#lvb)"/>
<path d="M421.5,339 C425,338.5 429,335.5 433,332.5 C440,327 447,323 455,321.4 C457,321.2 459,321.8 461.5,322.8" fill="none" stroke="#8a2018" stroke-width="2.2" opacity="0.55"/>
<path d="M417.3,315 C417.4,325 419,334 421.5,339" fill="none" stroke="#8a2018" stroke-width="2" opacity="0.45"/>
<path d="M497,297.5 C503,296.2 508,295.5 512.5,294 C509,292.5 505,291 500,289.6" fill="none" stroke="#8a1a14" stroke-width="2.4" opacity="0.6"/>
</g>
</g>
<ellipse cx="428" cy="298.5" rx="6" ry="6.5" fill="url(#lvh)" filter="url(#lb2)"/>
<ellipse cx="466" cy="300" rx="6" ry="3.5" fill="url(#lvh)" filter="url(#lb2)" opacity="0.8"/>
<path d="M466.5,285.5 C463,291.5 459,297 453.5,304" fill="none" stroke="#a83a2c" stroke-width="3.4" opacity="0.5" filter="url(#lb)"/>
<path d="M466,285.5 C462.5,291.5 458.5,297 453,303.5" fill="none" stroke="#e9c4b8" stroke-width="2.0" opacity="0.85" filter="url(#lb)"/>
<path d="M465,286.5 C461.5,292 458,296.8 453.8,302" fill="none" stroke="#f6e6e0" stroke-width="0.6" opacity="0.8"/>
<path d="M459,299 C466,296.5 474,295.5 482,295" fill="none" stroke="#e27866" stroke-width="1.4" opacity="0.6" filter="url(#lb)"/>
<line x1="462" y1="325" x2="462" y2="338.5" stroke="#78a062" stroke-width="1.9" />
<path d="M458.2,336 L462,338.3 L465.8,336 L462,344.3 Z" fill="#6aa83a"/>
<text x="461.9" y="354" font-size="8.6" text-anchor="middle" fill="#333" textLength="80" lengthAdjust="spacingAndGlyphs">Stabilization of HIF1α</text>
<line x1="461.9" y1="358.5" x2="461.9" y2="384.8" stroke="#8e2448" stroke-width="1.5" />
<line x1="453.8" y1="384.8" x2="470.6" y2="384.8" stroke="#8e2448" stroke-width="1.7" />
<rect x="485.6" y="363.0" width="18.3" height="20.9" fill="none" stroke="#8e2448" stroke-width="1.5"/>
<path d="M491.8,372.0 C491.8,369.6 493.3,368.4 495.1,368.4 C497.1,368.4 498.3,369.7 498.3,371.4 C498.3,373.2 497.0,374.0 496.1,374.7 C495.3,375.3 495.1,375.6 495.1,376.0" fill="none" stroke="#8e2448" stroke-width="2.4" stroke-linecap="round"/>
<path d="M491.8,372.0 C491.8,369.6 493.3,368.4 495.1,368.4 C497.1,368.4 498.3,369.7 498.3,371.4 C498.3,373.2 497.0,374.0 496.1,374.7 C495.3,375.3 495.1,375.6 495.1,376.0" fill="none" stroke="#e6b8c6" stroke-width="0.9" stroke-linecap="round"/>
<circle cx="495.1" cy="379.7" r="1.25" fill="#8e2448"/><circle cx="495.1" cy="379.7" r="0.4" fill="#e6b8c6"/>
<text x="462.2" y="398.2" font-size="8.6" text-anchor="middle" fill="#333" textLength="56.4" lengthAdjust="spacingAndGlyphs">Protein S levels</text>
<rect x="0" y="0" width="520" height="1" fill="#000"/>
<rect x="1" y="1" width="518" height="1" fill="#000" opacity="0.25"/>
<rect x="0" y="0" width="1" height="490" fill="#000"/>
<rect x="1" y="1" width="1" height="488" fill="#000" opacity="0.4"/>
<rect x="519" y="0" width="1" height="490" fill="#000"/>
<rect x="518" y="1" width="1" height="488" fill="#000" opacity="0.65"/>
<rect x="0" y="489" width="520" height="1" fill="#000"/>
<rect x="1" y="488" width="518" height="1" fill="#000" opacity="0.65"/>
</svg>
</body></html>
